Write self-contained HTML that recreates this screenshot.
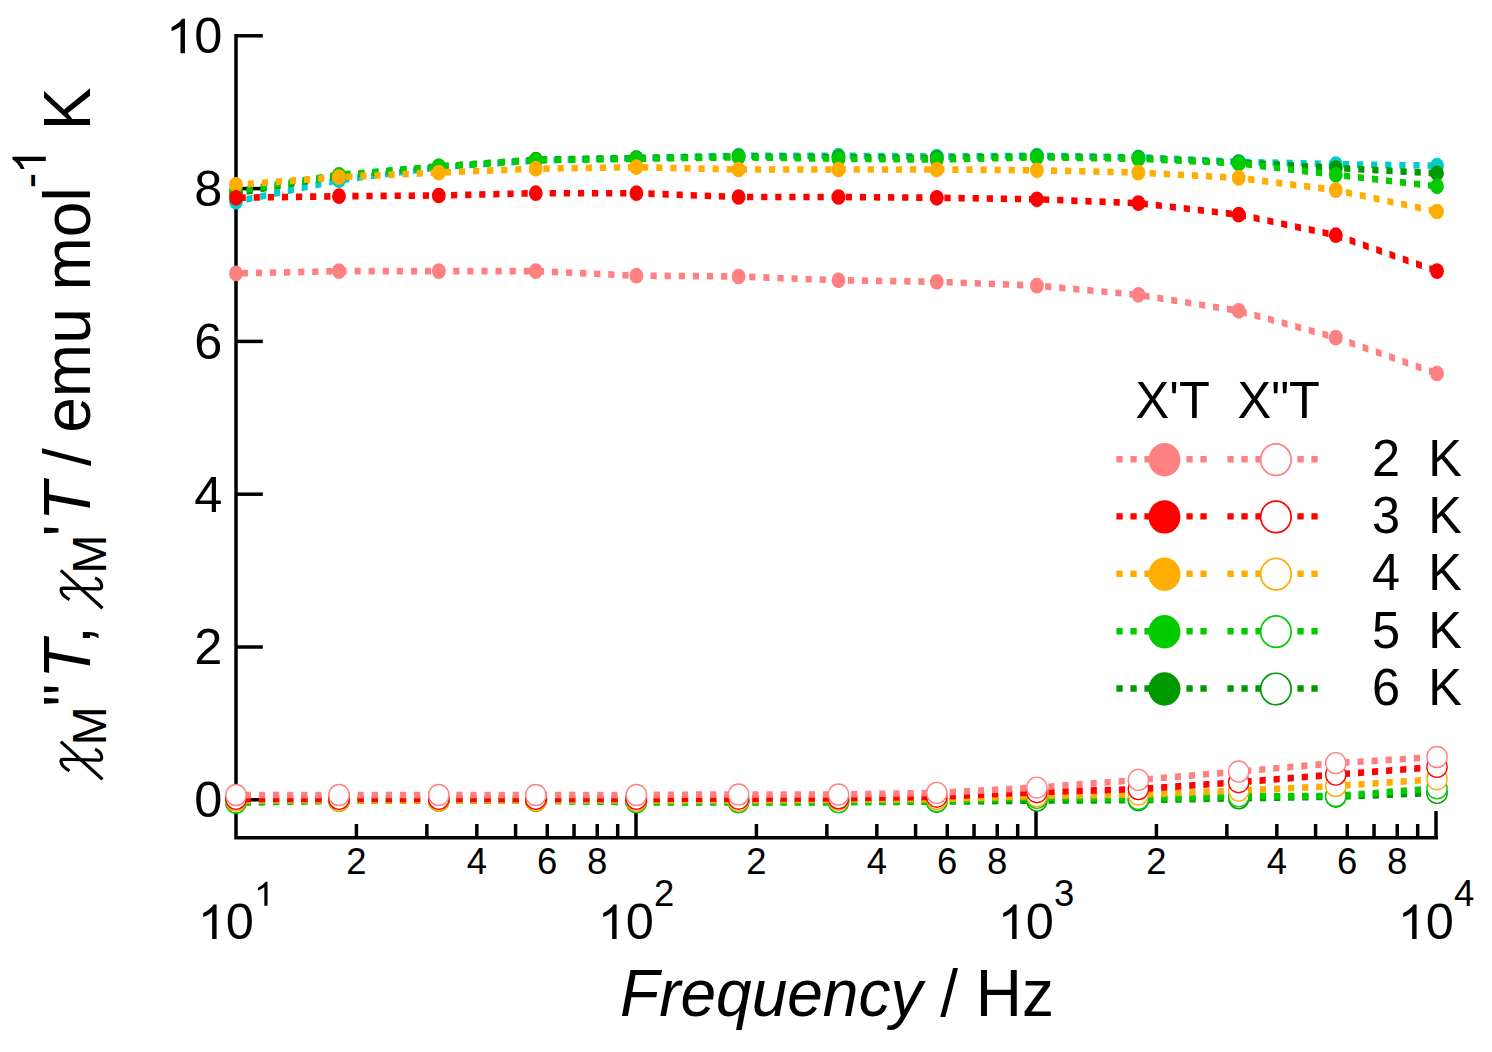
<!DOCTYPE html>
<html><head><meta charset="utf-8"><style>html,body{margin:0;padding:0;background:#fff;width:1492px;height:1052px;overflow:hidden}</style></head>
<body>
<svg width="1492" height="1052" viewBox="0 0 1492 1052" style="position:absolute;left:0;top:0">
<rect x="0" y="0" width="1492" height="1052" fill="#fff"/>
<g stroke="#000" stroke-width="3.5" fill="none" stroke-linecap="butt">
<path d="M236 34.1 V839.6 M234.25 837.85 H1437.9"/>
<path d="M236 799.80 H262.8"/>
<path d="M236 647.00 H262.8"/>
<path d="M236 494.20 H262.8"/>
<path d="M236 341.40 H262.8"/>
<path d="M236 188.60 H262.8"/>
<path d="M236 35.80 H262.8"/>
<path d="M356.41 837.8 V824"/>
<path d="M426.85 837.8 V824"/>
<path d="M476.82 837.8 V824"/>
<path d="M515.59 837.8 V824"/>
<path d="M547.26 837.8 V824"/>
<path d="M574.04 837.8 V824"/>
<path d="M597.24 837.8 V824"/>
<path d="M617.70 837.8 V824"/>
<path d="M636.00 837.8 V811"/>
<path d="M756.41 837.8 V824"/>
<path d="M826.85 837.8 V824"/>
<path d="M876.82 837.8 V824"/>
<path d="M915.59 837.8 V824"/>
<path d="M947.26 837.8 V824"/>
<path d="M974.04 837.8 V824"/>
<path d="M997.24 837.8 V824"/>
<path d="M1017.70 837.8 V824"/>
<path d="M1036.00 837.8 V811"/>
<path d="M1156.41 837.8 V824"/>
<path d="M1226.85 837.8 V824"/>
<path d="M1276.82 837.8 V824"/>
<path d="M1315.59 837.8 V824"/>
<path d="M1347.26 837.8 V824"/>
<path d="M1374.04 837.8 V824"/>
<path d="M1397.24 837.8 V824"/>
<path d="M1417.70 837.8 V824"/>
<path d="M1436.00 837.8 V811"/>
</g>
<defs><filter id="bl" x="-2%" y="-2%" width="104%" height="104%"><feGaussianBlur stdDeviation="0.6"/></filter></defs>
<g filter="url(#bl)">
<path d="M236.00 799.17L236.90 799.16L236.90 805.76L236.00 805.77ZM244.80 799.02L251.00 798.92L251.00 805.52L244.80 805.62ZM258.90 798.78L265.10 798.68L265.10 805.28L258.90 805.38ZM272.99 798.54L279.19 798.44L279.19 805.04L272.99 805.14ZM287.09 798.30L293.29 798.20L293.29 804.80L287.09 804.90ZM301.19 798.06L307.39 797.96L307.39 804.56L301.19 804.66ZM315.29 797.82L321.49 797.72L321.49 804.32L315.29 804.42ZM329.39 797.58L335.59 797.47L335.59 804.08L329.39 804.18ZM343.49 797.42L349.69 797.42L349.69 804.02L343.49 804.02ZM357.59 797.42L363.79 797.42L363.79 804.02L357.59 804.02ZM371.69 797.42L377.89 797.42L377.89 804.02L371.69 804.02ZM385.79 797.42L391.99 797.42L391.99 804.02L385.79 804.02ZM399.89 797.42L406.09 797.42L406.09 804.02L399.89 804.02ZM413.99 797.42L420.19 797.42L420.19 804.02L413.99 804.02ZM428.09 797.42L434.29 797.42L434.29 804.02L428.09 804.02ZM442.19 797.42L448.39 797.42L448.39 804.02L442.19 804.02ZM456.29 797.42L462.49 797.42L462.49 804.02L456.29 804.02ZM470.39 797.42L476.59 797.42L476.59 804.02L470.39 804.02ZM484.49 797.42L490.69 797.42L490.69 804.02L484.49 804.02ZM498.59 797.42L504.79 797.42L504.79 804.02L498.59 804.02ZM512.69 797.42L518.89 797.42L518.89 804.02L512.69 804.02ZM526.79 797.42L532.99 797.42L532.99 804.02L526.79 804.02ZM540.88 797.49L547.08 797.57L547.08 804.17L540.88 804.09ZM554.98 797.68L561.18 797.76L561.18 804.36L554.98 804.28ZM569.08 797.87L575.28 797.96L575.28 804.56L569.08 804.47ZM583.18 798.06L589.38 798.15L589.38 804.75L583.18 804.66ZM597.28 798.26L603.48 798.34L603.48 804.94L597.28 804.86ZM611.38 798.45L617.58 798.53L617.58 805.14L611.38 805.05ZM625.48 798.64L631.68 798.73L631.68 805.33L625.48 805.24ZM639.58 798.79L645.78 798.79L645.78 805.39L639.58 805.39ZM653.68 798.79L659.88 798.79L659.88 805.39L653.68 805.39ZM667.78 798.79L673.98 798.79L673.98 805.39L667.78 805.39ZM681.88 798.79L688.08 798.79L688.08 805.39L681.88 805.39ZM695.98 798.79L702.18 798.79L702.18 805.39L695.98 805.39ZM710.08 798.79L716.28 798.79L716.28 805.39L710.08 805.39ZM724.18 798.79L730.38 798.79L730.38 805.39L724.18 805.39ZM738.28 798.79L738.60 798.79L738.60 805.39L738.28 805.39ZM738.60 798.79L744.48 798.79L744.48 805.39L738.60 805.39ZM752.38 798.79L758.58 798.79L758.58 805.39L752.38 805.39ZM766.48 798.79L772.68 798.79L772.68 805.39L766.48 805.39ZM780.58 798.79L786.78 798.79L786.78 805.39L780.58 805.39ZM794.68 798.79L800.88 798.79L800.88 805.39L794.68 805.39ZM808.78 798.79L814.98 798.79L814.98 805.39L808.78 805.39ZM822.88 798.79L829.08 798.79L829.08 805.39L822.88 805.39ZM836.98 798.79L838.50 798.79L838.50 805.39L836.98 805.39ZM838.50 798.79L843.18 798.77L843.18 805.37L838.50 805.39ZM851.08 798.74L857.28 798.72L857.28 805.32L851.08 805.34ZM865.18 798.69L871.38 798.66L871.38 805.26L865.18 805.29ZM879.28 798.63L885.48 798.61L885.48 805.21L879.28 805.23ZM893.38 798.58L899.58 798.55L899.58 805.15L893.38 805.18ZM907.48 798.52L913.68 798.50L913.68 805.10L907.48 805.12ZM921.57 798.47L927.77 798.45L927.77 805.05L921.57 805.07ZM935.67 798.41L936.80 798.41L936.80 805.01L935.67 805.01ZM936.80 798.41L941.87 798.35L941.87 804.95L936.80 805.01ZM949.77 798.26L955.97 798.19L955.97 804.79L949.77 804.86ZM963.87 798.10L970.07 798.03L970.07 804.63L963.87 804.70ZM977.97 797.94L984.17 797.87L984.17 804.47L977.97 804.54ZM992.07 797.78L998.27 797.71L998.27 804.31L992.07 804.38ZM1006.17 797.62L1012.37 797.54L1012.37 804.15L1006.17 804.22ZM1020.27 797.45L1026.47 797.38L1026.47 803.98L1020.27 804.05ZM1034.37 797.29L1036.90 797.26L1036.90 803.86L1034.37 803.89ZM1036.90 797.26L1040.57 797.25L1040.57 803.85L1036.90 803.86ZM1048.47 797.22L1054.67 797.20L1054.67 803.80L1048.47 803.82ZM1062.57 797.17L1068.77 797.14L1068.77 803.74L1062.57 803.77ZM1076.67 797.11L1082.87 797.09L1082.87 803.69L1076.67 803.71ZM1090.77 797.06L1096.97 797.04L1096.97 803.64L1090.77 803.66ZM1104.87 797.01L1111.07 796.98L1111.07 803.58L1104.87 803.61ZM1118.97 796.96L1125.17 796.93L1125.17 803.53L1118.97 803.56ZM1133.07 796.90L1138.40 796.88L1138.40 803.48L1133.07 803.50ZM1138.40 796.88L1139.27 796.86L1139.27 803.47L1138.40 803.48ZM1147.17 796.71L1153.36 796.60L1153.36 803.20L1147.17 803.32ZM1161.26 796.45L1167.46 796.33L1167.46 802.93L1161.26 803.05ZM1175.36 796.18L1181.56 796.06L1181.56 802.66L1175.36 802.78ZM1189.46 795.91L1195.66 795.79L1195.66 802.39L1189.46 802.51ZM1203.56 795.64L1209.75 795.52L1209.75 802.12L1203.56 802.24ZM1217.65 795.37L1223.85 795.25L1223.85 801.86L1217.65 801.97ZM1231.75 795.10L1237.95 794.99L1237.95 801.59L1231.75 801.70ZM1245.85 794.86L1252.05 794.76L1252.05 801.36L1245.85 801.46ZM1259.95 794.64L1266.15 794.54L1266.15 801.14L1259.95 801.24ZM1274.05 794.42L1280.24 794.32L1280.24 800.92L1274.05 801.02ZM1288.14 794.19L1294.34 794.10L1294.34 800.70L1288.14 800.79ZM1302.24 793.97L1308.44 793.87L1308.44 800.47L1302.24 800.57ZM1316.34 793.75L1322.54 793.65L1322.54 800.25L1316.34 800.35ZM1330.44 793.53L1335.80 793.44L1335.80 800.04L1330.44 800.13ZM1335.80 793.44L1336.64 793.41L1336.64 800.01L1335.80 800.05ZM1344.53 793.11L1350.73 792.88L1350.73 799.48L1344.53 799.72ZM1358.62 792.58L1364.82 792.35L1364.82 798.95L1358.62 799.18ZM1372.71 792.05L1378.91 791.81L1378.91 798.42L1372.71 798.65ZM1386.80 791.52L1393.00 791.28L1393.00 797.89L1386.80 798.12ZM1400.89 790.98L1407.09 790.75L1407.09 797.36L1400.89 797.59ZM1414.98 790.45L1421.18 790.22L1421.18 796.82L1414.98 797.06ZM1429.07 789.92L1435.27 789.69L1435.27 796.29L1429.07 796.53Z" fill="#009900"/><ellipse cx="236.0" cy="802.5" rx="10.15" ry="10.5" fill="#fff" stroke="#009900" stroke-width="1.35"/><ellipse cx="339.0" cy="800.7" rx="10.15" ry="10.5" fill="#fff" stroke="#009900" stroke-width="1.35"/><ellipse cx="438.8" cy="800.7" rx="10.15" ry="10.5" fill="#fff" stroke="#009900" stroke-width="1.35"/><ellipse cx="535.8" cy="800.7" rx="10.15" ry="10.5" fill="#fff" stroke="#009900" stroke-width="1.35"/><ellipse cx="636.4" cy="802.1" rx="10.15" ry="10.5" fill="#fff" stroke="#009900" stroke-width="1.35"/><ellipse cx="738.6" cy="802.1" rx="10.15" ry="10.5" fill="#fff" stroke="#009900" stroke-width="1.35"/><ellipse cx="838.5" cy="802.1" rx="10.15" ry="10.5" fill="#fff" stroke="#009900" stroke-width="1.35"/><ellipse cx="936.8" cy="801.7" rx="10.15" ry="10.5" fill="#fff" stroke="#009900" stroke-width="1.35"/><ellipse cx="1036.9" cy="800.6" rx="10.15" ry="10.5" fill="#fff" stroke="#009900" stroke-width="1.35"/><ellipse cx="1138.4" cy="800.2" rx="10.15" ry="10.5" fill="#fff" stroke="#009900" stroke-width="1.35"/><ellipse cx="1238.7" cy="798.3" rx="10.15" ry="10.5" fill="#fff" stroke="#009900" stroke-width="1.35"/><ellipse cx="1335.8" cy="796.7" rx="10.15" ry="10.5" fill="#fff" stroke="#009900" stroke-width="1.35"/><ellipse cx="1437.0" cy="792.9" rx="10.15" ry="10.5" fill="#fff" stroke="#009900" stroke-width="1.35"/>
<path d="M236.00 799.17L236.90 799.16L236.90 805.76L236.00 805.77ZM244.80 799.02L251.00 798.92L251.00 805.52L244.80 805.62ZM258.90 798.78L265.10 798.68L265.10 805.28L258.90 805.38ZM272.99 798.54L279.19 798.44L279.19 805.04L272.99 805.14ZM287.09 798.30L293.29 798.20L293.29 804.80L287.09 804.90ZM301.19 798.06L307.39 797.96L307.39 804.56L301.19 804.66ZM315.29 797.82L321.49 797.72L321.49 804.32L315.29 804.42ZM329.39 797.58L335.59 797.47L335.59 804.08L329.39 804.18ZM343.49 797.42L349.69 797.42L349.69 804.02L343.49 804.02ZM357.59 797.42L363.79 797.42L363.79 804.02L357.59 804.02ZM371.69 797.42L377.89 797.42L377.89 804.02L371.69 804.02ZM385.79 797.42L391.99 797.42L391.99 804.02L385.79 804.02ZM399.89 797.42L406.09 797.42L406.09 804.02L399.89 804.02ZM413.99 797.42L420.19 797.42L420.19 804.02L413.99 804.02ZM428.09 797.42L434.29 797.42L434.29 804.02L428.09 804.02ZM442.19 797.42L448.39 797.42L448.39 804.02L442.19 804.02ZM456.29 797.42L462.49 797.42L462.49 804.02L456.29 804.02ZM470.39 797.42L476.59 797.42L476.59 804.02L470.39 804.02ZM484.49 797.42L490.69 797.42L490.69 804.02L484.49 804.02ZM498.59 797.42L504.79 797.42L504.79 804.02L498.59 804.02ZM512.69 797.42L518.89 797.42L518.89 804.02L512.69 804.02ZM526.79 797.42L532.99 797.42L532.99 804.02L526.79 804.02ZM540.88 797.49L547.08 797.57L547.08 804.17L540.88 804.09ZM554.98 797.68L561.18 797.76L561.18 804.36L554.98 804.28ZM569.08 797.87L575.28 797.96L575.28 804.56L569.08 804.47ZM583.18 798.06L589.38 798.15L589.38 804.75L583.18 804.66ZM597.28 798.26L603.48 798.34L603.48 804.94L597.28 804.86ZM611.38 798.45L617.58 798.53L617.58 805.14L611.38 805.05ZM625.48 798.64L631.68 798.73L631.68 805.33L625.48 805.24ZM639.58 798.79L645.78 798.79L645.78 805.39L639.58 805.39ZM653.68 798.79L659.88 798.79L659.88 805.39L653.68 805.39ZM667.78 798.79L673.98 798.79L673.98 805.39L667.78 805.39ZM681.88 798.79L688.08 798.79L688.08 805.39L681.88 805.39ZM695.98 798.79L702.18 798.79L702.18 805.39L695.98 805.39ZM710.08 798.79L716.28 798.79L716.28 805.39L710.08 805.39ZM724.18 798.79L730.38 798.79L730.38 805.39L724.18 805.39ZM738.28 798.79L738.60 798.79L738.60 805.39L738.28 805.39ZM738.60 798.79L744.48 798.79L744.48 805.39L738.60 805.39ZM752.38 798.79L758.58 798.79L758.58 805.39L752.38 805.39ZM766.48 798.79L772.68 798.79L772.68 805.39L766.48 805.39ZM780.58 798.79L786.78 798.79L786.78 805.39L780.58 805.39ZM794.68 798.79L800.88 798.79L800.88 805.39L794.68 805.39ZM808.78 798.79L814.98 798.79L814.98 805.39L808.78 805.39ZM822.88 798.79L829.08 798.79L829.08 805.39L822.88 805.39ZM836.98 798.79L838.50 798.79L838.50 805.39L836.98 805.39ZM838.50 798.79L843.18 798.76L843.18 805.36L838.50 805.39ZM851.08 798.69L857.28 798.65L857.28 805.25L851.08 805.29ZM865.17 798.58L871.37 798.54L871.37 805.14L865.17 805.18ZM879.27 798.47L885.47 798.43L885.47 805.03L879.27 805.08ZM893.37 798.37L899.57 798.32L899.57 804.92L893.37 804.97ZM907.47 798.26L913.67 798.21L913.67 804.81L907.47 804.86ZM921.57 798.15L927.77 798.10L927.77 804.70L921.57 804.75ZM935.67 798.04L936.80 798.03L936.80 804.63L935.67 804.64ZM936.80 798.03L941.87 797.85L941.87 804.46L936.80 804.63ZM949.76 797.58L955.96 797.37L955.96 803.97L949.76 804.18ZM963.86 797.10L970.05 796.88L970.05 803.49L963.86 803.70ZM977.95 796.61L984.14 796.40L984.14 803.00L977.95 803.22ZM992.04 796.13L998.24 795.92L998.24 802.52L992.04 802.73ZM1006.13 795.64L1012.33 795.43L1012.33 802.04L1006.13 802.25ZM1020.22 795.16L1026.42 794.95L1026.42 801.55L1020.22 801.76ZM1034.32 794.68L1036.90 794.59L1036.90 801.19L1034.32 801.28ZM1036.90 794.59L1040.51 794.63L1040.51 801.23L1036.90 801.19ZM1048.41 794.72L1054.61 794.79L1054.61 801.39L1048.41 801.32ZM1062.51 794.88L1068.71 794.95L1068.71 801.55L1062.51 801.48ZM1076.61 795.04L1082.81 795.11L1082.81 801.71L1076.61 801.64ZM1090.71 795.20L1096.91 795.27L1096.91 801.87L1090.71 801.80ZM1104.81 795.36L1111.01 795.43L1111.01 802.03L1104.81 801.96ZM1118.91 795.52L1125.11 795.59L1125.11 802.19L1118.91 802.12ZM1133.01 795.67L1138.40 795.74L1138.40 802.34L1133.01 802.28ZM1138.40 795.73L1139.21 795.71L1139.21 802.32L1138.40 802.34ZM1147.10 795.50L1153.30 795.34L1153.30 801.94L1147.10 802.11ZM1161.20 795.13L1167.40 794.96L1167.40 801.56L1161.20 801.73ZM1175.29 794.75L1181.49 794.59L1181.49 801.19L1175.29 801.35ZM1189.39 794.38L1195.59 794.21L1195.59 800.81L1189.39 800.98ZM1203.48 794.00L1209.68 793.83L1209.68 800.44L1203.48 800.60ZM1217.58 793.62L1223.78 793.46L1223.78 800.06L1217.58 800.23ZM1231.67 793.25L1237.87 793.08L1237.87 799.69L1231.67 799.85ZM1245.77 793.03L1251.97 793.01L1251.97 799.61L1245.77 799.63ZM1259.87 792.98L1266.07 792.95L1266.07 799.55L1259.87 799.58ZM1273.97 792.92L1280.17 792.90L1280.17 799.50L1273.97 799.52ZM1288.07 792.87L1294.27 792.84L1294.27 799.44L1288.07 799.47ZM1302.17 792.81L1308.37 792.79L1308.37 799.39L1302.17 799.41ZM1316.27 792.76L1322.47 792.73L1322.47 799.33L1316.27 799.36ZM1330.37 792.70L1335.80 792.68L1335.80 799.28L1330.37 799.30ZM1335.80 792.67L1336.57 792.61L1336.57 799.23L1335.80 799.29ZM1344.45 792.02L1350.63 791.55L1350.63 798.17L1344.45 798.64ZM1358.51 790.96L1364.69 790.49L1364.69 797.11L1358.51 797.58ZM1372.57 789.89L1378.75 789.43L1378.75 796.05L1372.57 796.51ZM1386.63 788.83L1392.81 788.37L1392.81 794.99L1386.63 795.45ZM1400.69 787.77L1406.87 787.31L1406.87 793.92L1400.69 794.39ZM1414.75 786.71L1420.93 786.24L1420.93 792.86L1414.75 793.33ZM1428.81 785.65L1434.99 785.18L1434.99 791.80L1428.81 792.27Z" fill="#00cc00"/><ellipse cx="236.0" cy="802.5" rx="10.15" ry="10.5" fill="#fff" stroke="#00cc00" stroke-width="1.35"/><ellipse cx="339.0" cy="800.7" rx="10.15" ry="10.5" fill="#fff" stroke="#00cc00" stroke-width="1.35"/><ellipse cx="438.8" cy="800.7" rx="10.15" ry="10.5" fill="#fff" stroke="#00cc00" stroke-width="1.35"/><ellipse cx="535.8" cy="800.7" rx="10.15" ry="10.5" fill="#fff" stroke="#00cc00" stroke-width="1.35"/><ellipse cx="636.4" cy="802.1" rx="10.15" ry="10.5" fill="#fff" stroke="#00cc00" stroke-width="1.35"/><ellipse cx="738.6" cy="802.1" rx="10.15" ry="10.5" fill="#fff" stroke="#00cc00" stroke-width="1.35"/><ellipse cx="838.5" cy="802.1" rx="10.15" ry="10.5" fill="#fff" stroke="#00cc00" stroke-width="1.35"/><ellipse cx="936.8" cy="801.3" rx="10.15" ry="10.5" fill="#fff" stroke="#00cc00" stroke-width="1.35"/><ellipse cx="1036.9" cy="797.9" rx="10.15" ry="10.5" fill="#fff" stroke="#00cc00" stroke-width="1.35"/><ellipse cx="1138.4" cy="799.0" rx="10.15" ry="10.5" fill="#fff" stroke="#00cc00" stroke-width="1.35"/><ellipse cx="1238.7" cy="796.4" rx="10.15" ry="10.5" fill="#fff" stroke="#00cc00" stroke-width="1.35"/><ellipse cx="1335.8" cy="796.0" rx="10.15" ry="10.5" fill="#fff" stroke="#00cc00" stroke-width="1.35"/><ellipse cx="1437.0" cy="788.3" rx="10.15" ry="10.5" fill="#fff" stroke="#00cc00" stroke-width="1.35"/>
<path d="M236.00 797.26L236.90 797.26L236.90 803.86L236.00 803.86ZM244.80 797.26L251.00 797.26L251.00 803.86L244.80 803.86ZM258.90 797.26L265.10 797.26L265.10 803.86L258.90 803.86ZM273.00 797.26L279.20 797.26L279.20 803.86L273.00 803.86ZM287.10 797.26L293.30 797.26L293.30 803.86L287.10 803.86ZM301.20 797.26L307.40 797.26L307.40 803.86L301.20 803.86ZM315.30 797.26L321.50 797.26L321.50 803.86L315.30 803.86ZM329.40 797.26L335.60 797.26L335.60 803.86L329.40 803.86ZM343.50 797.26L349.70 797.26L349.70 803.86L343.50 803.86ZM357.60 797.26L363.80 797.26L363.80 803.86L357.60 803.86ZM371.70 797.26L377.90 797.26L377.90 803.86L371.70 803.86ZM385.80 797.26L392.00 797.26L392.00 803.86L385.80 803.86ZM399.90 797.26L406.10 797.26L406.10 803.86L399.90 803.86ZM414.00 797.26L420.20 797.26L420.20 803.86L414.00 803.86ZM428.10 797.26L434.30 797.26L434.30 803.86L428.10 803.86ZM442.20 797.26L448.40 797.26L448.40 803.86L442.20 803.86ZM456.30 797.26L462.50 797.26L462.50 803.86L456.30 803.86ZM470.40 797.26L476.60 797.26L476.60 803.86L470.40 803.86ZM484.50 797.26L490.70 797.26L490.70 803.86L484.50 803.86ZM498.60 797.26L504.80 797.26L504.80 803.86L498.60 803.86ZM512.70 797.26L518.90 797.26L518.90 803.86L512.70 803.86ZM526.80 797.26L533.00 797.26L533.00 803.86L526.80 803.86ZM540.90 797.26L547.10 797.26L547.10 803.86L540.90 803.86ZM555.00 797.26L561.20 797.26L561.20 803.86L555.00 803.86ZM569.10 797.26L575.30 797.26L575.30 803.86L569.10 803.86ZM583.20 797.26L589.40 797.26L589.40 803.86L583.20 803.86ZM597.30 797.26L603.50 797.26L603.50 803.86L597.30 803.86ZM611.40 797.26L617.60 797.26L617.60 803.86L611.40 803.86ZM625.50 797.26L631.70 797.26L631.70 803.86L625.50 803.86ZM639.60 797.26L645.80 797.26L645.80 803.86L639.60 803.86ZM653.70 797.26L659.90 797.26L659.90 803.86L653.70 803.86ZM667.80 797.26L674.00 797.26L674.00 803.86L667.80 803.86ZM681.90 797.26L688.10 797.26L688.10 803.86L681.90 803.86ZM696.00 797.26L702.20 797.26L702.20 803.86L696.00 803.86ZM710.10 797.26L716.30 797.26L716.30 803.86L710.10 803.86ZM724.20 797.26L730.40 797.26L730.40 803.86L724.20 803.86ZM738.30 797.26L738.60 797.26L738.60 803.86L738.30 803.86ZM738.60 797.26L744.50 797.22L744.50 803.82L738.60 803.86ZM752.40 797.16L758.60 797.11L758.60 803.71L752.40 803.76ZM766.50 797.05L772.70 797.00L772.70 803.60L766.50 803.65ZM780.60 796.94L786.80 796.90L786.80 803.50L780.60 803.54ZM794.70 796.83L800.90 796.79L800.90 803.39L794.70 803.44ZM808.80 796.73L815.00 796.68L815.00 803.28L808.80 803.33ZM822.90 796.62L829.10 796.57L829.10 803.17L822.90 803.22ZM837.00 796.51L838.50 796.50L838.50 803.10L837.00 803.11ZM838.50 796.50L843.20 796.46L843.20 803.06L838.50 803.10ZM851.10 796.40L857.30 796.35L857.30 802.95L851.10 803.00ZM865.20 796.29L871.40 796.24L871.40 802.84L865.20 802.89ZM879.30 796.18L885.50 796.13L885.50 802.73L879.30 802.78ZM893.40 796.07L899.60 796.03L899.60 802.63L893.40 802.67ZM907.49 795.96L913.69 795.92L913.69 802.52L907.49 802.56ZM921.59 795.85L927.79 795.81L927.79 802.41L921.59 802.45ZM935.69 795.74L936.80 795.74L936.80 802.34L935.69 802.34ZM936.80 795.73L941.89 795.58L941.89 802.18L936.80 802.34ZM949.79 795.34L955.99 795.15L955.99 801.75L949.79 801.94ZM963.88 794.91L970.08 794.72L970.08 801.32L963.88 801.51ZM977.97 794.48L984.17 794.29L984.17 800.89L977.97 801.08ZM992.07 794.05L998.27 793.86L998.27 800.46L992.07 800.65ZM1006.16 793.62L1012.36 793.43L1012.36 800.03L1006.16 800.22ZM1020.26 793.19L1026.45 793.00L1026.45 799.60L1020.26 799.79ZM1034.35 792.76L1036.90 792.68L1036.90 799.28L1034.35 799.36ZM1036.90 792.68L1040.55 792.62L1040.55 799.23L1036.90 799.28ZM1048.45 792.51L1054.65 792.41L1054.65 799.01L1048.45 799.11ZM1062.54 792.29L1068.74 792.20L1068.74 798.80L1062.54 798.89ZM1076.64 792.08L1082.84 791.99L1082.84 798.59L1076.64 798.68ZM1090.74 791.87L1096.94 791.78L1096.94 798.38L1090.74 798.47ZM1104.84 791.66L1111.04 791.56L1111.04 798.16L1104.84 798.26ZM1118.94 791.44L1125.14 791.35L1125.14 797.95L1118.94 798.05ZM1133.04 791.23L1138.40 791.15L1138.40 797.75L1133.04 797.83ZM1138.40 791.15L1139.24 791.12L1139.24 797.72L1138.40 797.75ZM1147.13 790.82L1153.33 790.58L1153.33 797.19L1147.13 797.42ZM1161.22 790.28L1167.41 790.04L1167.41 796.65L1161.22 796.89ZM1175.31 789.74L1181.50 789.51L1181.50 796.11L1175.31 796.35ZM1189.40 789.21L1195.59 788.97L1195.59 795.58L1189.40 795.81ZM1203.49 788.67L1209.68 788.43L1209.68 795.04L1203.49 795.28ZM1217.58 788.13L1223.77 787.90L1223.77 794.50L1217.58 794.74ZM1231.67 787.60L1237.86 787.36L1237.86 793.97L1231.67 794.20ZM1245.76 787.00L1251.95 786.70L1251.95 793.31L1245.76 793.60ZM1259.84 786.33L1266.03 786.04L1266.03 792.65L1259.84 792.94ZM1273.92 785.67L1280.12 785.37L1280.12 791.98L1273.92 792.27ZM1288.01 785.00L1294.20 784.71L1294.20 791.32L1288.01 791.61ZM1302.09 784.34L1308.29 784.04L1308.29 790.65L1302.09 790.94ZM1316.18 783.67L1322.37 783.38L1322.37 789.99L1316.18 790.28ZM1330.26 783.01L1335.80 782.74L1335.80 789.35L1330.26 789.61ZM1335.80 782.74L1336.45 782.70L1336.45 789.31L1335.80 789.36ZM1344.34 782.16L1350.52 781.74L1350.52 788.36L1344.34 788.78ZM1358.40 781.20L1364.59 780.78L1364.59 787.40L1358.40 787.82ZM1372.47 780.25L1378.66 779.83L1378.66 786.44L1372.47 786.86ZM1386.54 779.29L1392.72 778.87L1392.72 785.49L1386.54 785.91ZM1400.61 778.34L1406.79 777.92L1406.79 784.53L1400.61 784.95ZM1414.67 777.38L1420.86 776.96L1420.86 783.58L1414.67 784.00ZM1428.74 776.43L1434.93 776.01L1434.93 782.62L1428.74 783.04Z" fill="#ffad00"/><ellipse cx="236.0" cy="800.6" rx="10.15" ry="10.5" fill="#fff" stroke="#ffad00" stroke-width="1.35"/><ellipse cx="339.0" cy="800.6" rx="10.15" ry="10.5" fill="#fff" stroke="#ffad00" stroke-width="1.35"/><ellipse cx="438.8" cy="800.6" rx="10.15" ry="10.5" fill="#fff" stroke="#ffad00" stroke-width="1.35"/><ellipse cx="535.8" cy="800.6" rx="10.15" ry="10.5" fill="#fff" stroke="#ffad00" stroke-width="1.35"/><ellipse cx="636.4" cy="800.6" rx="10.15" ry="10.5" fill="#fff" stroke="#ffad00" stroke-width="1.35"/><ellipse cx="738.6" cy="800.6" rx="10.15" ry="10.5" fill="#fff" stroke="#ffad00" stroke-width="1.35"/><ellipse cx="838.5" cy="799.8" rx="10.15" ry="10.5" fill="#fff" stroke="#ffad00" stroke-width="1.35"/><ellipse cx="936.8" cy="799.0" rx="10.15" ry="10.5" fill="#fff" stroke="#ffad00" stroke-width="1.35"/><ellipse cx="1036.9" cy="796.0" rx="10.15" ry="10.5" fill="#fff" stroke="#ffad00" stroke-width="1.35"/><ellipse cx="1138.4" cy="794.5" rx="10.15" ry="10.5" fill="#fff" stroke="#ffad00" stroke-width="1.35"/><ellipse cx="1238.7" cy="790.6" rx="10.15" ry="10.5" fill="#fff" stroke="#ffad00" stroke-width="1.35"/><ellipse cx="1335.8" cy="786.0" rx="10.15" ry="10.5" fill="#fff" stroke="#ffad00" stroke-width="1.35"/><ellipse cx="1437.0" cy="779.2" rx="10.15" ry="10.5" fill="#fff" stroke="#ffad00" stroke-width="1.35"/>
<path d="M236.00 795.58L236.90 795.58L236.90 802.18L236.00 802.18ZM244.80 795.58L251.00 795.58L251.00 802.18L244.80 802.18ZM258.90 795.58L265.10 795.58L265.10 802.18L258.90 802.18ZM273.00 795.58L279.20 795.58L279.20 802.18L273.00 802.18ZM287.10 795.58L293.30 795.58L293.30 802.18L287.10 802.18ZM301.20 795.58L307.40 795.58L307.40 802.18L301.20 802.18ZM315.30 795.58L321.50 795.58L321.50 802.18L315.30 802.18ZM329.40 795.58L335.60 795.58L335.60 802.18L329.40 802.18ZM343.50 795.58L349.70 795.58L349.70 802.18L343.50 802.18ZM357.60 795.58L363.80 795.58L363.80 802.18L357.60 802.18ZM371.70 795.58L377.90 795.58L377.90 802.18L371.70 802.18ZM385.80 795.58L392.00 795.58L392.00 802.18L385.80 802.18ZM399.90 795.58L406.10 795.58L406.10 802.18L399.90 802.18ZM414.00 795.58L420.20 795.58L420.20 802.18L414.00 802.18ZM428.10 795.58L434.30 795.58L434.30 802.18L428.10 802.18ZM442.20 795.58L448.40 795.58L448.40 802.18L442.20 802.18ZM456.30 795.58L462.50 795.58L462.50 802.18L456.30 802.18ZM470.40 795.58L476.60 795.58L476.60 802.18L470.40 802.18ZM484.50 795.58L490.70 795.58L490.70 802.18L484.50 802.18ZM498.60 795.58L504.80 795.58L504.80 802.18L498.60 802.18ZM512.70 795.58L518.90 795.58L518.90 802.18L512.70 802.18ZM526.80 795.58L533.00 795.58L533.00 802.18L526.80 802.18ZM540.90 795.58L547.10 795.58L547.10 802.18L540.90 802.18ZM555.00 795.58L561.20 795.58L561.20 802.18L555.00 802.18ZM569.10 795.58L575.30 795.58L575.30 802.18L569.10 802.18ZM583.20 795.58L589.40 795.58L589.40 802.18L583.20 802.18ZM597.30 795.58L603.50 795.58L603.50 802.18L597.30 802.18ZM611.40 795.58L617.60 795.58L617.60 802.18L611.40 802.18ZM625.50 795.58L631.70 795.58L631.70 802.18L625.50 802.18ZM639.60 795.58L645.80 795.56L645.80 802.16L639.60 802.18ZM653.70 795.54L659.90 795.53L659.90 802.13L653.70 802.14ZM667.80 795.51L674.00 795.50L674.00 802.10L667.80 802.11ZM681.90 795.48L688.10 795.47L688.10 802.07L681.90 802.08ZM696.00 795.45L702.20 795.44L702.20 802.04L696.00 802.05ZM710.10 795.42L716.30 795.40L716.30 802.00L710.10 802.02ZM724.20 795.39L730.40 795.37L730.40 801.97L724.20 801.99ZM738.30 795.35L738.60 795.35L738.60 801.95L738.30 801.95ZM738.60 795.35L744.50 795.33L744.50 801.93L738.60 801.95ZM752.40 795.30L758.60 795.28L758.60 801.88L752.40 801.90ZM766.50 795.25L772.70 795.22L772.70 801.82L766.50 801.85ZM780.60 795.19L786.80 795.17L786.80 801.77L780.60 801.79ZM794.70 795.14L800.90 795.12L800.90 801.72L794.70 801.74ZM808.80 795.09L815.00 795.06L815.00 801.66L808.80 801.69ZM822.90 795.03L829.10 795.01L829.10 801.61L822.90 801.63ZM837.00 794.98L838.50 794.97L838.50 801.57L837.00 801.58ZM838.50 794.97L843.20 794.90L843.20 801.50L838.50 801.57ZM851.10 794.78L857.30 794.68L857.30 801.28L851.10 801.38ZM865.20 794.56L871.40 794.46L871.40 801.06L865.20 801.16ZM879.29 794.34L885.49 794.24L885.49 800.84L879.29 800.94ZM893.39 794.12L899.59 794.02L899.59 800.62L893.39 800.72ZM907.49 793.90L913.69 793.80L913.69 800.40L907.49 800.50ZM921.59 793.68L927.79 793.58L927.79 800.18L921.59 800.28ZM935.69 793.46L936.80 793.44L936.80 800.04L935.69 800.06ZM936.80 793.44L941.88 793.21L941.88 799.81L936.80 800.05ZM949.77 792.85L955.97 792.56L955.97 799.17L949.77 799.45ZM963.86 792.20L970.05 791.92L970.05 798.52L963.86 798.81ZM977.94 791.56L984.14 791.27L984.14 797.88L977.94 798.16ZM992.03 790.91L998.22 790.63L998.22 797.23L992.03 797.52ZM1006.11 790.27L1012.31 789.98L1012.31 796.59L1006.11 796.87ZM1020.20 789.62L1026.39 789.34L1026.39 795.94L1020.20 796.23ZM1034.28 788.98L1036.90 788.86L1036.90 795.46L1034.28 795.58ZM1036.90 788.86L1040.48 788.75L1040.48 795.35L1036.90 795.46ZM1048.38 788.51L1054.57 788.33L1054.57 794.93L1048.38 795.12ZM1062.47 788.09L1068.67 787.90L1068.67 794.51L1062.47 794.69ZM1076.56 787.66L1082.76 787.48L1082.76 794.08L1076.56 794.27ZM1090.66 787.24L1096.86 787.05L1096.86 793.66L1090.66 793.84ZM1104.75 786.82L1110.95 786.63L1110.95 793.23L1104.75 793.42ZM1118.85 786.39L1125.04 786.20L1125.04 792.81L1118.85 792.99ZM1132.94 785.97L1138.40 785.80L1138.40 792.41L1132.94 792.57ZM1138.40 785.80L1139.13 785.75L1139.13 792.36L1138.40 792.41ZM1147.02 785.21L1153.20 784.78L1153.20 791.40L1147.02 791.82ZM1161.08 784.24L1167.27 783.82L1167.27 790.43L1161.08 790.86ZM1175.15 783.28L1181.34 782.85L1181.34 789.47L1175.15 789.89ZM1189.22 782.31L1195.40 781.89L1195.40 788.50L1189.22 788.93ZM1203.28 781.35L1209.47 780.92L1209.47 787.54L1203.28 787.96ZM1217.35 780.38L1223.54 779.96L1223.54 786.58L1217.35 787.00ZM1231.42 779.42L1237.60 779.00L1237.60 785.61L1231.42 786.03ZM1245.48 778.38L1251.66 777.90L1251.66 784.52L1245.48 785.00ZM1259.54 777.28L1265.72 776.79L1265.72 783.41L1259.54 783.90ZM1273.59 776.17L1279.77 775.69L1279.77 782.31L1273.59 782.79ZM1287.65 775.07L1293.83 774.58L1293.83 781.20L1287.65 781.69ZM1301.71 773.96L1307.89 773.47L1307.89 780.09L1301.71 780.58ZM1315.76 772.85L1321.94 772.37L1321.94 778.99L1315.76 779.47ZM1329.82 771.75L1335.80 771.28L1335.80 777.90L1329.82 778.37ZM1335.80 771.28L1336.00 771.26L1336.00 777.88L1335.80 777.90ZM1343.88 770.67L1350.06 770.20L1350.06 776.82L1343.88 777.29ZM1357.94 769.61L1364.12 769.14L1364.12 775.76L1357.94 776.23ZM1372.00 768.55L1378.18 768.08L1378.18 774.70L1372.00 775.16ZM1386.06 767.48L1392.24 767.02L1392.24 773.64L1386.06 774.10ZM1400.12 766.42L1406.30 765.96L1406.30 772.58L1400.12 773.04ZM1414.18 765.36L1420.36 764.89L1420.36 771.51L1414.18 771.98ZM1428.24 764.30L1434.42 763.83L1434.42 770.45L1428.24 770.92Z" fill="#ff0000"/><ellipse cx="236.0" cy="798.9" rx="10.15" ry="10.5" fill="#fff" stroke="#ff0000" stroke-width="1.35"/><ellipse cx="339.0" cy="798.9" rx="10.15" ry="10.5" fill="#fff" stroke="#ff0000" stroke-width="1.35"/><ellipse cx="438.8" cy="798.9" rx="10.15" ry="10.5" fill="#fff" stroke="#ff0000" stroke-width="1.35"/><ellipse cx="535.8" cy="798.9" rx="10.15" ry="10.5" fill="#fff" stroke="#ff0000" stroke-width="1.35"/><ellipse cx="636.4" cy="798.9" rx="10.15" ry="10.5" fill="#fff" stroke="#ff0000" stroke-width="1.35"/><ellipse cx="738.6" cy="798.7" rx="10.15" ry="10.5" fill="#fff" stroke="#ff0000" stroke-width="1.35"/><ellipse cx="838.5" cy="798.3" rx="10.15" ry="10.5" fill="#fff" stroke="#ff0000" stroke-width="1.35"/><ellipse cx="936.8" cy="796.7" rx="10.15" ry="10.5" fill="#fff" stroke="#ff0000" stroke-width="1.35"/><ellipse cx="1036.9" cy="792.2" rx="10.15" ry="10.5" fill="#fff" stroke="#ff0000" stroke-width="1.35"/><ellipse cx="1138.4" cy="789.1" rx="10.15" ry="10.5" fill="#fff" stroke="#ff0000" stroke-width="1.35"/><ellipse cx="1238.7" cy="782.2" rx="10.15" ry="10.5" fill="#fff" stroke="#ff0000" stroke-width="1.35"/><ellipse cx="1335.8" cy="774.6" rx="10.15" ry="10.5" fill="#fff" stroke="#ff0000" stroke-width="1.35"/><ellipse cx="1437.0" cy="766.9" rx="10.15" ry="10.5" fill="#fff" stroke="#ff0000" stroke-width="1.35"/>
<path d="M236.00 791.69L236.90 791.69L236.90 798.29L236.00 798.29ZM244.80 791.69L251.00 791.69L251.00 798.29L244.80 798.29ZM258.90 791.69L265.10 791.69L265.10 798.29L258.90 798.29ZM273.00 791.69L279.20 791.69L279.20 798.29L273.00 798.29ZM287.10 791.69L293.30 791.69L293.30 798.29L287.10 798.29ZM301.20 791.69L307.40 791.69L307.40 798.29L301.20 798.29ZM315.30 791.69L321.50 791.69L321.50 798.29L315.30 798.29ZM329.40 791.69L335.60 791.69L335.60 798.29L329.40 798.29ZM343.50 791.69L349.70 791.69L349.70 798.29L343.50 798.29ZM357.60 791.69L363.80 791.69L363.80 798.29L357.60 798.29ZM371.70 791.69L377.90 791.69L377.90 798.29L371.70 798.29ZM385.80 791.69L392.00 791.69L392.00 798.29L385.80 798.29ZM399.90 791.69L406.10 791.69L406.10 798.29L399.90 798.29ZM414.00 791.69L420.20 791.69L420.20 798.29L414.00 798.29ZM428.10 791.69L434.30 791.69L434.30 798.29L428.10 798.29ZM442.20 791.69L448.40 791.69L448.40 798.29L442.20 798.29ZM456.30 791.69L462.50 791.69L462.50 798.29L456.30 798.29ZM470.40 791.69L476.60 791.69L476.60 798.29L470.40 798.29ZM484.50 791.69L490.70 791.69L490.70 798.29L484.50 798.29ZM498.60 791.69L504.80 791.69L504.80 798.29L498.60 798.29ZM512.70 791.69L518.90 791.69L518.90 798.29L512.70 798.29ZM526.80 791.69L533.00 791.69L533.00 798.29L526.80 798.29ZM540.90 791.69L547.10 791.69L547.10 798.29L540.90 798.29ZM555.00 791.69L561.20 791.69L561.20 798.29L555.00 798.29ZM569.10 791.69L575.30 791.69L575.30 798.29L569.10 798.29ZM583.20 791.69L589.40 791.69L589.40 798.29L583.20 798.29ZM597.30 791.69L603.50 791.69L603.50 798.29L597.30 798.29ZM611.40 791.69L617.60 791.69L617.60 798.29L611.40 798.29ZM625.50 791.69L631.70 791.69L631.70 798.29L625.50 798.29ZM639.60 791.67L645.80 791.64L645.80 798.24L639.60 798.27ZM653.70 791.60L659.90 791.56L659.90 798.16L653.70 798.20ZM667.80 791.52L674.00 791.49L674.00 798.09L667.80 798.12ZM681.90 791.45L688.10 791.42L688.10 798.02L681.90 798.05ZM696.00 791.37L702.20 791.34L702.20 797.94L696.00 797.97ZM710.10 791.30L716.30 791.27L716.30 797.87L710.10 797.90ZM724.20 791.23L730.40 791.19L730.40 797.79L724.20 797.83ZM738.30 791.15L738.60 791.15L738.60 797.75L738.30 797.75ZM738.60 791.15L744.50 791.15L744.50 797.75L738.60 797.75ZM752.40 791.15L758.60 791.15L758.60 797.75L752.40 797.75ZM766.50 791.15L772.70 791.15L772.70 797.75L766.50 797.75ZM780.60 791.15L786.80 791.15L786.80 797.75L780.60 797.75ZM794.70 791.15L800.90 791.15L800.90 797.75L794.70 797.75ZM808.80 791.15L815.00 791.15L815.00 797.75L808.80 797.75ZM822.90 791.15L829.10 791.15L829.10 797.75L822.90 797.75ZM837.00 791.15L838.50 791.15L838.50 797.75L837.00 797.75ZM838.50 791.15L843.20 791.08L843.20 797.68L838.50 797.75ZM851.10 790.96L857.30 790.86L857.30 797.46L851.10 797.56ZM865.20 790.74L871.39 790.64L871.39 797.24L865.20 797.34ZM879.29 790.52L885.49 790.42L885.49 797.02L879.29 797.12ZM893.39 790.30L899.59 790.20L899.59 796.80L893.39 796.90ZM907.49 790.08L913.69 789.98L913.69 796.58L907.49 796.68ZM921.59 789.86L927.79 789.76L927.79 796.36L921.59 796.46ZM935.69 789.64L936.80 789.62L936.80 796.22L935.69 796.24ZM936.80 789.62L941.88 789.35L941.88 795.96L936.80 796.23ZM949.77 788.93L955.96 788.60L955.96 795.21L949.77 795.54ZM963.85 788.17L970.04 787.84L970.04 794.45L963.85 794.78ZM977.93 787.42L984.12 787.09L984.12 793.70L977.93 794.03ZM992.01 786.67L998.20 786.34L998.20 792.95L992.01 793.28ZM1006.09 785.92L1012.28 785.59L1012.28 792.20L1006.09 792.53ZM1020.17 785.17L1026.36 784.83L1026.36 791.44L1020.17 791.77ZM1034.25 784.41L1036.90 784.27L1036.90 790.88L1034.25 791.02ZM1036.90 784.27L1040.43 784.00L1040.43 790.62L1036.90 790.89ZM1048.31 783.41L1054.49 782.94L1054.49 789.56L1048.31 790.03ZM1062.37 782.35L1068.55 781.88L1068.55 788.50L1062.37 788.97ZM1076.43 781.29L1082.61 780.83L1082.61 787.44L1076.43 787.91ZM1090.49 780.23L1096.67 779.77L1096.67 786.39L1090.49 786.85ZM1104.55 779.17L1110.74 778.71L1110.74 785.33L1104.55 785.79ZM1118.61 778.12L1124.80 777.65L1124.80 784.27L1118.61 784.73ZM1132.67 777.06L1138.40 776.63L1138.40 783.25L1132.67 783.68ZM1138.40 776.62L1138.86 776.59L1138.86 783.21L1138.40 783.25ZM1146.73 775.93L1152.91 775.41L1152.91 782.03L1146.73 782.55ZM1160.78 774.75L1166.96 774.23L1166.96 780.85L1160.78 781.37ZM1174.83 773.57L1181.01 773.05L1181.01 779.68L1174.83 780.20ZM1188.88 772.39L1195.06 771.88L1195.06 778.50L1188.88 779.02ZM1202.93 771.22L1209.11 770.70L1209.11 777.32L1202.93 777.84ZM1216.98 770.04L1223.16 769.52L1223.16 776.15L1216.98 776.66ZM1231.03 768.86L1237.21 768.35L1237.21 774.97L1231.03 775.49ZM1245.08 767.67L1251.26 767.13L1251.26 773.76L1245.08 774.29ZM1259.13 766.45L1265.31 765.92L1265.31 772.54L1259.13 773.08ZM1273.18 765.24L1279.35 764.70L1279.35 771.33L1273.18 771.86ZM1287.22 764.02L1293.40 763.49L1293.40 770.11L1287.22 770.64ZM1301.27 762.80L1307.45 762.27L1307.45 768.89L1301.27 769.43ZM1315.32 761.59L1321.50 761.05L1321.50 767.68L1315.32 768.21ZM1329.37 760.37L1335.54 759.84L1335.54 766.46L1329.37 767.00ZM1343.43 759.36L1349.62 758.99L1349.62 765.60L1343.43 765.97ZM1357.50 758.51L1363.69 758.14L1363.69 764.75L1357.50 765.12ZM1371.58 757.66L1377.77 757.29L1377.77 763.90L1371.58 764.27ZM1385.65 756.81L1391.84 756.44L1391.84 763.05L1385.65 763.42ZM1399.73 755.96L1405.91 755.59L1405.91 762.20L1399.73 762.57ZM1413.80 755.11L1419.99 754.74L1419.99 761.35L1413.80 761.72ZM1427.87 754.26L1434.06 753.89L1434.06 760.50L1427.87 760.87Z" fill="#ff8080"/><ellipse cx="236.0" cy="795.0" rx="10.15" ry="10.5" fill="#fff" stroke="#ff8080" stroke-width="1.35"/><ellipse cx="339.0" cy="795.0" rx="10.15" ry="10.5" fill="#fff" stroke="#ff8080" stroke-width="1.35"/><ellipse cx="438.8" cy="795.0" rx="10.15" ry="10.5" fill="#fff" stroke="#ff8080" stroke-width="1.35"/><ellipse cx="535.8" cy="795.0" rx="10.15" ry="10.5" fill="#fff" stroke="#ff8080" stroke-width="1.35"/><ellipse cx="636.4" cy="795.0" rx="10.15" ry="10.5" fill="#fff" stroke="#ff8080" stroke-width="1.35"/><ellipse cx="738.6" cy="794.5" rx="10.15" ry="10.5" fill="#fff" stroke="#ff8080" stroke-width="1.35"/><ellipse cx="838.5" cy="794.5" rx="10.15" ry="10.5" fill="#fff" stroke="#ff8080" stroke-width="1.35"/><ellipse cx="936.8" cy="792.9" rx="10.15" ry="10.5" fill="#fff" stroke="#ff8080" stroke-width="1.35"/><ellipse cx="1036.9" cy="787.6" rx="10.15" ry="10.5" fill="#fff" stroke="#ff8080" stroke-width="1.35"/><ellipse cx="1138.4" cy="779.9" rx="10.15" ry="10.5" fill="#fff" stroke="#ff8080" stroke-width="1.35"/><ellipse cx="1238.7" cy="771.5" rx="10.15" ry="10.5" fill="#fff" stroke="#ff8080" stroke-width="1.35"/><ellipse cx="1335.8" cy="763.1" rx="10.15" ry="10.5" fill="#fff" stroke="#ff8080" stroke-width="1.35"/><ellipse cx="1437.0" cy="757.0" rx="10.15" ry="10.5" fill="#fff" stroke="#ff8080" stroke-width="1.35"/>
<path d="M236.00 198.22L238.64 197.67L238.64 204.41L236.00 204.96ZM246.38 196.06L252.45 194.80L252.45 201.54L246.38 202.80ZM260.18 193.19L266.25 191.93L266.25 198.67L260.18 199.94ZM273.99 190.33L280.06 189.07L280.06 195.81L273.99 197.07ZM287.79 187.46L293.87 186.20L293.87 192.94L287.79 194.20ZM301.60 184.59L307.67 183.33L307.67 190.07L301.60 191.33ZM315.41 181.73L321.48 180.47L321.48 187.21L315.41 188.47ZM329.21 178.86L335.28 177.60L335.28 184.34L329.21 185.60ZM343.07 176.34L349.22 175.54L349.22 182.19L343.07 182.99ZM357.05 174.52L363.20 173.72L363.20 180.37L357.05 181.17ZM371.03 172.70L377.18 171.90L377.18 178.56L371.03 179.36ZM385.01 170.88L391.16 170.08L391.16 176.74L385.01 177.54ZM399.00 169.06L405.14 168.26L405.14 174.92L399.00 175.72ZM412.98 167.24L419.13 166.44L419.13 173.10L412.98 173.90ZM426.96 165.42L433.11 164.62L433.11 171.28L426.96 172.08ZM440.96 163.75L447.14 163.31L447.14 169.93L440.96 170.36ZM455.02 162.75L461.20 162.31L461.20 168.93L455.02 169.37ZM469.08 161.75L475.27 161.31L475.27 167.93L469.08 168.37ZM483.15 160.76L489.33 160.32L489.33 166.93L483.15 167.37ZM497.21 159.76L503.40 159.32L503.40 165.94L497.21 166.38ZM511.28 158.76L517.46 158.32L517.46 164.94L511.28 165.38ZM525.34 157.76L531.53 157.33L531.53 163.94L525.34 164.38ZM539.42 156.95L545.61 156.81L545.61 163.41L539.42 163.55ZM553.51 156.63L559.71 156.49L559.71 163.09L553.51 163.23ZM567.61 156.31L573.81 156.17L573.81 162.77L567.61 162.91ZM581.71 155.99L587.90 155.84L587.90 162.45L581.71 162.59ZM595.80 155.66L602.00 155.52L602.00 162.12L595.80 162.27ZM609.90 155.34L616.10 155.20L616.10 161.80L609.90 161.94ZM623.99 155.02L630.19 154.88L630.19 161.48L623.99 161.62ZM638.09 154.70L644.29 154.56L644.29 161.16L638.09 161.30ZM652.19 154.39L658.39 154.25L658.39 160.85L652.19 160.99ZM666.28 154.07L672.48 153.93L672.48 160.53L666.28 160.67ZM680.38 153.75L686.58 153.61L686.58 160.22L680.38 160.35ZM694.48 153.44L700.67 153.30L700.67 159.90L694.48 160.04ZM708.57 153.12L714.77 152.98L714.77 159.58L708.57 159.72ZM722.67 152.80L728.87 152.67L728.87 159.27L722.67 159.41ZM736.77 152.49L738.60 152.45L738.60 159.05L736.77 159.09ZM738.60 152.45L742.97 152.45L742.97 159.05L738.60 159.05ZM750.87 152.45L757.07 152.45L757.07 159.05L750.87 159.05ZM764.97 152.45L771.17 152.45L771.17 159.05L764.97 159.05ZM779.07 152.45L785.27 152.45L785.27 159.05L779.07 159.05ZM793.17 152.45L799.37 152.45L799.37 159.05L793.17 159.05ZM807.27 152.45L813.47 152.45L813.47 159.05L807.27 159.05ZM821.37 152.45L827.57 152.45L827.57 159.05L821.37 159.05ZM835.47 152.45L838.50 152.45L838.50 159.05L835.47 159.05ZM838.50 152.45L841.67 152.47L841.67 159.07L838.50 159.05ZM849.56 152.53L855.76 152.58L855.76 159.18L849.56 159.13ZM863.66 152.64L869.86 152.69L869.86 159.29L863.66 159.24ZM877.76 152.75L883.96 152.80L883.96 159.40L877.76 159.35ZM891.86 152.86L898.06 152.91L898.06 159.51L891.86 159.46ZM905.96 152.97L912.16 153.02L912.16 159.62L905.96 159.57ZM920.06 153.08L926.26 153.13L926.26 159.73L920.06 159.68ZM934.16 153.19L936.80 153.21L936.80 159.81L934.16 159.79ZM936.80 153.21L940.36 153.18L940.36 159.78L936.80 159.81ZM948.26 153.12L954.46 153.08L954.46 159.68L948.26 159.72ZM962.36 153.02L968.56 152.97L968.56 159.57L962.36 159.62ZM976.46 152.91L982.66 152.86L982.66 159.46L976.46 159.51ZM990.56 152.80L996.76 152.75L996.76 159.35L990.56 159.40ZM1004.66 152.69L1010.86 152.65L1010.86 159.25L1004.66 159.29ZM1018.76 152.59L1024.96 152.54L1024.96 159.14L1018.76 159.19ZM1032.86 152.48L1036.90 152.45L1036.90 159.05L1032.86 159.08ZM1036.90 152.45L1039.06 152.48L1039.06 159.08L1036.90 159.05ZM1046.96 152.60L1053.16 152.69L1053.16 159.29L1046.96 159.20ZM1061.06 152.81L1067.26 152.90L1067.26 159.51L1061.06 159.41ZM1075.15 153.02L1081.35 153.12L1081.35 159.72L1075.15 159.62ZM1089.25 153.24L1095.45 153.33L1095.45 159.93L1089.25 159.84ZM1103.35 153.45L1109.55 153.54L1109.55 160.14L1103.35 160.05ZM1117.45 153.66L1123.65 153.75L1123.65 160.35L1117.45 160.26ZM1131.55 153.87L1137.75 153.97L1137.75 160.57L1131.55 160.47ZM1145.64 154.30L1151.83 154.59L1151.83 161.19L1145.64 160.91ZM1159.73 154.95L1165.92 155.23L1165.92 161.84L1159.73 161.55ZM1173.81 155.59L1180.00 155.87L1180.00 162.48L1173.81 162.20ZM1187.90 156.23L1194.09 156.52L1194.09 163.12L1187.90 162.84ZM1201.98 156.88L1208.17 157.16L1208.17 163.77L1201.98 163.49ZM1216.07 157.52L1222.26 157.81L1222.26 164.41L1216.07 164.13ZM1230.15 158.17L1236.35 158.45L1236.35 165.06L1230.15 164.77ZM1244.24 158.69L1250.44 158.84L1250.44 165.44L1244.24 165.29ZM1258.34 159.02L1264.54 159.17L1264.54 165.77L1258.34 165.62ZM1272.43 159.36L1278.63 159.50L1278.63 166.10L1272.43 165.96ZM1286.53 159.69L1292.73 159.83L1292.73 166.44L1286.53 166.29ZM1300.63 160.02L1306.82 160.17L1306.82 166.77L1300.63 166.62ZM1314.72 160.35L1320.92 160.50L1320.92 167.10L1314.72 166.96ZM1328.82 160.69L1335.02 160.83L1335.02 167.43L1328.82 167.29ZM1342.92 160.96L1349.11 161.05L1349.11 167.65L1342.92 167.56ZM1357.01 161.17L1363.21 161.27L1363.21 167.87L1357.01 167.77ZM1371.11 161.38L1377.31 161.48L1377.31 168.08L1371.11 167.99ZM1385.21 161.60L1391.41 161.69L1391.41 168.29L1385.21 168.20ZM1399.31 161.81L1405.51 161.90L1405.51 168.50L1399.31 168.41ZM1413.41 162.02L1419.61 162.12L1419.61 168.72L1413.41 168.62ZM1427.51 162.24L1433.70 162.33L1433.70 168.93L1427.51 168.84Z" fill="#00cccc"/><ellipse cx="236.0" cy="201.6" rx="6.9" ry="7.85" fill="#00cccc"/><ellipse cx="339.0" cy="180.2" rx="6.9" ry="7.85" fill="#00cccc"/><ellipse cx="438.8" cy="167.2" rx="6.9" ry="7.85" fill="#00cccc"/><ellipse cx="535.8" cy="160.3" rx="6.9" ry="7.85" fill="#00cccc"/><ellipse cx="636.4" cy="158.0" rx="6.9" ry="7.85" fill="#00cccc"/><ellipse cx="738.6" cy="155.7" rx="6.9" ry="7.85" fill="#00cccc"/><ellipse cx="838.5" cy="155.7" rx="6.9" ry="7.85" fill="#00cccc"/><ellipse cx="936.8" cy="156.5" rx="6.9" ry="7.85" fill="#00cccc"/><ellipse cx="1036.9" cy="155.7" rx="6.9" ry="7.85" fill="#00cccc"/><ellipse cx="1138.4" cy="157.3" rx="6.9" ry="7.85" fill="#00cccc"/><ellipse cx="1238.7" cy="161.9" rx="6.9" ry="7.85" fill="#00cccc"/><ellipse cx="1335.8" cy="164.2" rx="6.9" ry="7.85" fill="#00cccc"/><ellipse cx="1437.0" cy="165.7" rx="6.9" ry="7.85" fill="#00cccc"/>
<path d="M236.00 189.84L238.86 189.35L238.86 196.04L236.00 196.53ZM246.65 188.02L252.76 186.98L252.76 193.67L246.65 194.72ZM260.55 185.65L266.66 184.61L266.66 191.30L260.55 192.34ZM274.44 183.28L280.56 182.23L280.56 188.93L274.44 189.97ZM288.34 180.91L294.46 179.86L294.46 186.56L288.34 187.60ZM302.24 178.54L308.35 177.49L308.35 184.19L302.24 185.23ZM316.14 176.16L322.25 175.12L322.25 181.82L316.14 182.86ZM330.04 173.79L336.15 172.75L336.15 179.45L330.04 180.49ZM343.99 171.84L350.16 171.27L350.16 177.90L343.99 178.47ZM358.03 170.55L364.21 169.98L364.21 176.61L358.03 177.18ZM372.07 169.26L378.25 168.69L378.25 175.32L372.07 175.89ZM386.11 167.97L392.29 167.40L392.29 174.03L386.11 174.60ZM400.15 166.68L406.33 166.11L406.33 172.74L400.15 173.31ZM414.20 165.39L420.37 164.82L420.37 171.45L414.20 172.02ZM428.24 164.10L434.41 163.53L434.41 170.16L428.24 170.73ZM442.28 162.89L448.47 162.45L448.47 169.07L442.28 169.51ZM456.35 161.89L462.53 161.45L462.53 168.07L456.35 168.51ZM470.41 160.89L476.60 160.46L476.60 167.07L470.41 167.51ZM484.48 159.90L490.66 159.46L490.66 166.08L484.48 166.51ZM498.54 158.90L504.73 158.46L504.73 165.08L498.54 165.52ZM512.61 157.90L518.79 157.47L518.79 164.08L512.61 164.52ZM526.67 156.91L532.86 156.47L532.86 163.08L526.67 163.52ZM540.75 156.19L546.95 156.10L546.95 162.70L540.75 162.79ZM554.85 155.98L561.05 155.88L561.05 162.48L554.85 162.58ZM568.94 155.76L575.14 155.67L575.14 162.27L568.94 162.36ZM583.04 155.55L589.24 155.46L589.24 162.06L583.04 162.15ZM597.14 155.34L603.34 155.24L603.34 161.84L597.14 161.94ZM611.24 155.12L617.44 155.03L617.44 161.63L611.24 161.72ZM625.34 154.91L631.54 154.81L631.54 161.41L625.34 161.51ZM639.44 154.69L645.64 154.60L645.64 161.20L639.44 161.29ZM653.53 154.48L659.73 154.39L659.73 160.99L653.53 161.08ZM667.63 154.27L673.83 154.18L673.83 160.78L667.63 160.87ZM681.73 154.06L687.93 153.97L687.93 160.57L681.73 160.66ZM695.83 153.85L702.03 153.76L702.03 160.36L695.83 160.45ZM709.93 153.64L716.13 153.55L716.13 160.15L709.93 160.24ZM724.03 153.43L730.23 153.34L730.23 159.94L724.03 160.03ZM738.13 153.22L738.60 153.21L738.60 159.81L738.13 159.82ZM738.60 153.21L744.33 153.26L744.33 159.86L738.60 159.81ZM752.22 153.32L758.42 153.36L758.42 159.96L752.22 159.92ZM766.32 153.42L772.52 153.47L772.52 160.07L766.32 160.02ZM780.42 153.53L786.62 153.58L786.62 160.18L780.42 160.13ZM794.52 153.64L800.72 153.69L800.72 160.29L794.52 160.24ZM808.62 153.75L814.82 153.79L814.82 160.40L808.62 160.35ZM822.72 153.86L828.92 153.90L828.92 160.50L822.72 160.46ZM836.82 153.96L838.50 153.98L838.50 160.58L836.82 160.56ZM838.50 153.98L843.02 154.01L843.02 160.61L838.50 160.58ZM850.92 154.07L857.12 154.12L857.12 160.72L850.92 160.67ZM865.02 154.18L871.22 154.23L871.22 160.83L865.02 160.78ZM879.12 154.29L885.32 154.34L885.32 160.94L879.12 160.89ZM893.22 154.40L899.42 154.45L899.42 161.05L893.22 161.00ZM907.32 154.51L913.52 154.56L913.52 161.16L907.32 161.11ZM921.42 154.62L927.62 154.67L927.62 161.27L921.42 161.22ZM935.52 154.73L936.80 154.74L936.80 161.34L935.52 161.33ZM936.80 154.74L941.72 154.66L941.72 161.27L936.80 161.34ZM949.62 154.54L955.82 154.45L955.82 161.05L949.62 161.14ZM963.72 154.33L969.92 154.23L969.92 160.83L963.72 160.93ZM977.81 154.11L984.01 154.02L984.01 160.62L977.81 160.71ZM991.91 153.90L998.11 153.80L998.11 160.40L991.91 160.50ZM1006.01 153.68L1012.21 153.59L1012.21 160.19L1006.01 160.28ZM1020.11 153.47L1026.31 153.37L1026.31 159.97L1020.11 160.07ZM1034.21 153.25L1036.90 153.21L1036.90 159.81L1034.21 159.85ZM1036.90 153.21L1040.41 153.26L1040.41 159.87L1036.90 159.81ZM1048.31 153.38L1054.51 153.48L1054.51 160.08L1048.31 159.98ZM1062.40 153.60L1068.60 153.69L1068.60 160.29L1062.40 160.20ZM1076.50 153.81L1082.70 153.90L1082.70 160.50L1076.50 160.41ZM1090.60 154.02L1096.80 154.11L1096.80 160.71L1090.60 160.62ZM1104.70 154.23L1110.90 154.33L1110.90 160.93L1104.70 160.83ZM1118.80 154.44L1125.00 154.54L1125.00 161.14L1118.80 161.05ZM1132.90 154.66L1138.40 154.74L1138.40 161.34L1132.90 161.26ZM1138.40 154.74L1139.10 154.77L1139.10 161.38L1138.40 161.34ZM1146.99 155.13L1153.18 155.41L1153.18 162.02L1146.99 161.74ZM1161.07 155.77L1167.27 156.06L1167.27 162.66L1161.07 162.38ZM1175.16 156.42L1181.35 156.70L1181.35 163.31L1175.16 163.02ZM1189.24 157.06L1195.44 157.34L1195.44 163.95L1189.24 163.67ZM1203.33 157.70L1209.52 157.99L1209.52 164.59L1203.33 164.31ZM1217.41 158.35L1223.61 158.63L1223.61 165.24L1217.41 164.95ZM1231.50 158.99L1237.69 159.27L1237.69 165.88L1231.50 165.60ZM1245.58 159.70L1251.77 160.04L1251.77 166.65L1245.58 166.31ZM1259.66 160.47L1265.85 160.81L1265.85 167.42L1259.66 167.08ZM1273.74 161.25L1279.93 161.59L1279.93 168.20L1273.74 167.86ZM1287.82 162.02L1294.01 162.37L1294.01 168.98L1287.82 168.63ZM1301.90 162.80L1308.09 163.14L1308.09 169.75L1301.90 169.41ZM1315.97 163.58L1322.16 163.92L1322.16 170.53L1315.97 170.19ZM1330.05 164.35L1335.80 164.67L1335.80 171.28L1330.05 170.96ZM1335.80 164.67L1336.24 164.69L1336.24 171.30L1335.80 171.28ZM1344.13 165.11L1350.32 165.43L1350.32 172.04L1344.13 171.72ZM1358.21 165.85L1364.40 166.18L1364.40 172.79L1358.21 172.46ZM1372.29 166.60L1378.48 166.92L1378.48 173.53L1372.29 173.21ZM1386.37 167.34L1392.57 167.67L1392.57 174.28L1386.37 173.95ZM1400.45 168.08L1406.65 168.41L1406.65 175.02L1400.45 174.69ZM1414.53 168.83L1420.73 169.16L1420.73 175.76L1414.53 175.44ZM1428.61 169.57L1434.81 169.90L1434.81 176.51L1428.61 176.18Z" fill="#009900"/><ellipse cx="236.0" cy="193.2" rx="6.9" ry="7.85" fill="#009900"/><ellipse cx="339.0" cy="175.6" rx="6.9" ry="7.85" fill="#009900"/><ellipse cx="438.8" cy="166.4" rx="6.9" ry="7.85" fill="#009900"/><ellipse cx="535.8" cy="159.6" rx="6.9" ry="7.85" fill="#009900"/><ellipse cx="636.4" cy="158.0" rx="6.9" ry="7.85" fill="#009900"/><ellipse cx="738.6" cy="156.5" rx="6.9" ry="7.85" fill="#009900"/><ellipse cx="838.5" cy="157.3" rx="6.9" ry="7.85" fill="#009900"/><ellipse cx="936.8" cy="158.0" rx="6.9" ry="7.85" fill="#009900"/><ellipse cx="1036.9" cy="156.5" rx="6.9" ry="7.85" fill="#009900"/><ellipse cx="1138.4" cy="158.0" rx="6.9" ry="7.85" fill="#009900"/><ellipse cx="1238.7" cy="162.6" rx="6.9" ry="7.85" fill="#009900"/><ellipse cx="1335.8" cy="168.0" rx="6.9" ry="7.85" fill="#009900"/><ellipse cx="1437.0" cy="173.3" rx="6.9" ry="7.85" fill="#009900"/>
<path d="M236.00 187.55L238.87 187.11L238.87 193.79L236.00 194.23ZM246.67 185.89L252.80 184.94L252.80 191.62L246.67 192.57ZM260.60 183.72L266.73 182.77L266.73 189.45L260.60 190.40ZM274.54 181.55L280.66 180.60L280.66 187.28L274.54 188.23ZM288.47 179.38L294.59 178.43L294.59 185.10L288.47 186.06ZM302.40 177.21L308.53 176.26L308.53 182.93L302.40 183.89ZM316.33 175.04L322.46 174.08L322.46 180.76L316.33 181.72ZM330.26 172.87L336.39 171.91L336.39 178.59L330.26 179.55ZM344.24 171.10L350.42 170.57L350.42 177.20L344.24 177.72ZM358.29 169.91L364.47 169.39L364.47 176.02L358.29 176.54ZM372.34 168.73L378.52 168.21L378.52 174.83L372.34 175.35ZM386.39 167.55L392.57 167.03L392.57 173.65L386.39 174.17ZM400.44 166.36L406.62 165.84L406.62 172.47L400.44 172.99ZM414.49 165.18L420.67 164.66L420.67 171.28L414.49 171.80ZM428.54 164.00L434.72 163.48L434.72 170.10L428.54 170.62ZM442.60 162.90L448.78 162.51L448.78 169.12L442.60 169.51ZM456.67 162.01L462.86 161.62L462.86 168.23L456.67 168.62ZM470.74 161.12L476.93 160.73L476.93 167.35L470.74 167.74ZM484.81 160.24L491.00 159.85L491.00 166.46L484.81 166.85ZM498.89 159.35L505.07 158.96L505.07 165.57L498.89 165.96ZM512.96 158.46L519.15 158.07L519.15 164.69L512.96 165.08ZM527.03 157.58L533.22 157.19L533.22 163.80L527.03 164.19ZM541.11 156.95L547.31 156.86L547.31 163.46L541.11 163.55ZM555.21 156.74L561.41 156.64L561.41 163.24L555.21 163.34ZM569.31 156.52L575.51 156.43L575.51 163.03L569.31 163.12ZM583.41 156.31L589.61 156.21L589.61 162.82L583.41 162.91ZM597.51 156.09L603.70 156.00L603.70 162.60L597.51 162.70ZM611.60 155.88L617.80 155.79L617.80 162.39L611.60 162.48ZM625.70 155.67L631.90 155.57L631.90 162.17L625.70 162.27ZM639.80 155.45L646.00 155.36L646.00 161.96L639.80 162.05ZM653.90 155.24L660.10 155.15L660.10 161.75L653.90 161.84ZM668.00 155.03L674.20 154.94L674.20 161.54L668.00 161.63ZM682.10 154.82L688.29 154.73L688.29 161.33L682.10 161.42ZM696.19 154.61L702.39 154.52L702.39 161.12L696.19 161.21ZM710.29 154.40L716.49 154.31L716.49 160.91L710.29 161.00ZM724.39 154.19L730.59 154.10L730.59 160.70L724.39 160.79ZM738.49 153.98L738.60 153.98L738.60 160.58L738.49 160.58ZM738.60 153.98L744.69 154.07L744.69 160.67L738.60 160.58ZM752.59 154.19L758.79 154.28L758.79 160.89L752.59 160.79ZM766.69 154.41L772.89 154.50L772.89 161.10L766.69 161.01ZM780.78 154.62L786.98 154.72L786.98 161.32L780.78 161.22ZM794.88 154.84L801.08 154.93L801.08 161.53L794.88 161.44ZM808.98 155.05L815.18 155.15L815.18 161.75L808.98 161.65ZM823.08 155.27L829.28 155.36L829.28 161.96L823.08 161.87ZM837.18 155.48L838.50 155.50L838.50 162.10L837.18 162.08ZM838.50 155.50L843.38 155.54L843.38 162.14L838.50 162.10ZM851.28 155.60L857.48 155.65L857.48 162.25L851.28 162.20ZM865.38 155.71L871.58 155.76L871.58 162.36L865.38 162.31ZM879.48 155.82L885.68 155.87L885.68 162.47L879.48 162.42ZM893.58 155.93L899.78 155.98L899.78 162.58L893.58 162.53ZM907.68 156.04L913.88 156.09L913.88 162.69L907.68 162.64ZM921.78 156.15L927.97 156.20L927.97 162.80L921.78 162.75ZM935.87 156.26L936.80 156.27L936.80 162.87L935.87 162.86ZM936.80 156.27L942.07 156.15L942.07 162.75L936.80 162.87ZM949.97 155.97L956.17 155.82L956.17 162.43L949.97 162.57ZM964.07 155.64L970.27 155.50L970.27 162.10L964.07 162.24ZM978.16 155.32L984.36 155.18L984.36 161.78L978.16 161.92ZM992.26 155.00L998.46 154.86L998.46 161.46L992.26 161.60ZM1006.36 154.67L1012.55 154.53L1012.55 161.13L1006.36 161.28ZM1020.45 154.35L1026.65 154.21L1026.65 160.81L1020.45 160.95ZM1034.55 154.03L1036.90 153.98L1036.90 160.58L1034.55 160.63ZM1036.90 153.98L1040.75 154.03L1040.75 160.63L1036.90 160.58ZM1048.65 154.15L1054.85 154.25L1054.85 160.85L1048.65 160.75ZM1062.75 154.36L1068.94 154.46L1068.94 161.06L1062.75 160.97ZM1076.84 154.58L1083.04 154.67L1083.04 161.27L1076.84 161.18ZM1090.94 154.79L1097.14 154.88L1097.14 161.48L1090.94 161.39ZM1105.04 155.00L1111.24 155.09L1111.24 161.70L1105.04 161.60ZM1119.14 155.21L1125.34 155.31L1125.34 161.91L1119.14 161.81ZM1133.24 155.43L1138.40 155.50L1138.40 162.10L1133.24 162.03ZM1138.40 155.50L1139.44 155.55L1139.44 162.15L1138.40 162.11ZM1147.33 155.91L1153.52 156.19L1153.52 162.80L1147.33 162.52ZM1161.41 156.55L1167.61 156.84L1167.61 163.44L1161.41 163.16ZM1175.50 157.20L1181.69 157.48L1181.69 164.09L1175.50 163.80ZM1189.58 157.84L1195.78 158.12L1195.78 164.73L1189.58 164.45ZM1203.67 158.48L1209.86 158.77L1209.86 165.37L1203.67 165.09ZM1217.75 159.13L1223.95 159.41L1223.95 166.02L1217.75 165.73ZM1231.84 159.77L1238.03 160.05L1238.03 166.66L1231.84 166.38ZM1245.88 160.91L1252.04 161.64L1252.04 168.29L1245.88 167.56ZM1259.89 162.57L1266.04 163.29L1266.04 169.94L1259.89 169.21ZM1273.89 164.22L1280.05 164.94L1280.05 171.59L1273.89 170.86ZM1287.89 165.87L1294.05 166.60L1294.05 173.24L1287.89 172.52ZM1301.89 167.52L1308.05 168.25L1308.05 174.90L1301.89 174.17ZM1315.90 169.18L1322.05 169.90L1322.05 176.55L1315.90 175.82ZM1329.90 170.83L1335.80 171.53L1335.80 178.17L1329.90 177.47ZM1335.80 171.53L1336.06 171.56L1336.06 178.20L1335.80 178.17ZM1343.91 172.44L1350.07 173.14L1350.07 179.78L1343.91 179.09ZM1357.92 174.03L1364.08 174.73L1364.08 181.37L1357.92 180.67ZM1371.93 175.62L1378.09 176.32L1378.09 182.96L1371.93 182.26ZM1385.94 177.20L1392.10 177.90L1392.10 184.54L1385.94 183.85ZM1399.95 178.79L1406.11 179.49L1406.11 186.13L1399.95 185.43ZM1413.96 180.38L1420.12 181.08L1420.12 187.72L1413.96 187.02ZM1427.97 181.96L1434.13 182.66L1434.13 189.30L1427.97 188.61Z" fill="#00cc00"/><ellipse cx="236.0" cy="190.9" rx="6.9" ry="7.85" fill="#00cc00"/><ellipse cx="339.0" cy="174.8" rx="6.9" ry="7.85" fill="#00cc00"/><ellipse cx="438.8" cy="166.4" rx="6.9" ry="7.85" fill="#00cc00"/><ellipse cx="535.8" cy="160.3" rx="6.9" ry="7.85" fill="#00cc00"/><ellipse cx="636.4" cy="158.8" rx="6.9" ry="7.85" fill="#00cc00"/><ellipse cx="738.6" cy="157.3" rx="6.9" ry="7.85" fill="#00cc00"/><ellipse cx="838.5" cy="158.8" rx="6.9" ry="7.85" fill="#00cc00"/><ellipse cx="936.8" cy="159.6" rx="6.9" ry="7.85" fill="#00cc00"/><ellipse cx="1036.9" cy="157.3" rx="6.9" ry="7.85" fill="#00cc00"/><ellipse cx="1138.4" cy="158.8" rx="6.9" ry="7.85" fill="#00cc00"/><ellipse cx="1238.7" cy="163.4" rx="6.9" ry="7.85" fill="#00cc00"/><ellipse cx="1335.8" cy="174.8" rx="6.9" ry="7.85" fill="#00cc00"/><ellipse cx="1437.0" cy="186.3" rx="6.9" ry="7.85" fill="#00cc00"/>
<path d="M236.00 181.47L239.89 181.18L239.89 187.80L236.00 188.09ZM247.77 180.60L253.95 180.14L253.95 186.76L247.77 187.22ZM261.83 179.56L268.01 179.10L268.01 185.71L261.83 186.17ZM275.89 178.51L282.07 178.05L282.07 184.67L275.89 185.13ZM289.95 177.47L296.13 177.01L296.13 183.63L289.95 184.09ZM304.01 176.43L310.20 175.97L310.20 182.59L304.01 183.04ZM318.07 175.38L324.26 174.92L324.26 181.54L318.07 182.00ZM332.14 174.34L338.32 173.88L338.32 180.50L332.14 180.96ZM346.21 173.51L352.40 173.22L352.40 179.83L346.21 180.11ZM360.29 172.86L366.49 172.57L366.49 179.18L360.29 179.47ZM374.38 172.21L380.57 171.93L380.57 178.53L374.38 178.82ZM388.46 171.56L394.66 171.28L394.66 177.89L388.46 178.17ZM402.55 170.92L408.74 170.63L408.74 177.24L402.55 177.52ZM416.64 170.27L422.83 169.99L422.83 176.59L416.64 176.88ZM430.72 169.62L436.91 169.34L436.91 175.95L430.72 176.23ZM444.81 169.02L451.00 168.77L451.00 175.38L444.81 175.62ZM458.90 168.46L465.09 168.22L465.09 174.82L458.90 175.07ZM472.99 167.91L479.18 167.66L479.18 174.27L472.99 174.51ZM487.07 167.35L493.27 167.11L493.27 173.71L487.07 173.96ZM501.16 166.80L507.36 166.55L507.36 173.16L501.16 173.40ZM515.25 166.24L521.45 166.00L521.45 172.60L515.25 172.85ZM529.34 165.69L535.54 165.44L535.54 172.05L529.34 172.29ZM543.44 165.32L549.64 165.23L549.64 171.83L543.44 171.92ZM557.53 165.11L563.73 165.01L563.73 171.61L557.53 171.71ZM571.63 164.89L577.83 164.80L577.83 171.40L571.63 171.49ZM585.73 164.68L591.93 164.58L591.93 171.18L585.73 171.28ZM599.83 164.46L606.03 164.37L606.03 170.97L599.83 171.06ZM613.93 164.25L620.13 164.15L620.13 170.76L613.93 170.85ZM628.03 164.03L634.23 163.94L634.23 170.54L628.03 170.64ZM642.12 164.04L648.32 164.17L648.32 170.78L642.12 170.64ZM656.22 164.35L662.42 164.49L662.42 171.09L656.22 170.95ZM670.32 164.67L676.51 164.81L676.51 171.41L670.32 171.27ZM684.41 164.98L690.61 165.12L690.61 171.72L684.41 171.59ZM698.51 165.30L704.71 165.44L704.71 172.04L698.51 171.90ZM712.61 165.62L718.80 165.76L718.80 172.36L712.61 172.22ZM726.70 165.93L732.90 166.07L732.90 172.67L726.70 172.53ZM740.80 166.20L747.00 166.20L747.00 172.80L740.80 172.80ZM754.90 166.20L761.10 166.20L761.10 172.80L754.90 172.80ZM769.00 166.20L775.20 166.20L775.20 172.80L769.00 172.80ZM783.10 166.20L789.30 166.20L789.30 172.80L783.10 172.80ZM797.20 166.20L803.40 166.20L803.40 172.80L797.20 172.80ZM811.30 166.20L817.50 166.20L817.50 172.80L811.30 172.80ZM825.40 166.20L831.60 166.20L831.60 172.80L825.40 172.80ZM839.50 166.20L845.70 166.20L845.70 172.80L839.50 172.80ZM853.60 166.20L859.80 166.20L859.80 172.80L853.60 172.80ZM867.70 166.20L873.90 166.20L873.90 172.80L867.70 172.80ZM881.80 166.20L888.00 166.20L888.00 172.80L881.80 172.80ZM895.90 166.20L902.10 166.20L902.10 172.80L895.90 172.80ZM910.00 166.20L916.20 166.20L916.20 172.80L910.00 172.80ZM924.10 166.20L930.30 166.20L930.30 172.80L924.10 172.80ZM938.20 166.21L944.40 166.26L944.40 172.86L938.20 172.81ZM952.30 166.32L958.50 166.37L958.50 172.97L952.30 172.92ZM966.40 166.43L972.60 166.47L972.60 173.07L966.40 173.03ZM980.50 166.53L986.70 166.58L986.70 173.18L980.50 173.13ZM994.60 166.64L1000.80 166.69L1000.80 173.29L994.60 173.24ZM1008.70 166.75L1014.90 166.80L1014.90 173.40L1008.70 173.35ZM1022.80 166.86L1029.00 166.90L1029.00 173.50L1022.80 173.46ZM1036.90 166.96L1036.90 166.96L1036.90 173.56L1036.90 173.56ZM1036.90 166.96L1043.09 167.10L1043.09 173.70L1036.90 173.56ZM1050.99 167.28L1057.19 167.42L1057.19 174.02L1050.99 173.88ZM1065.09 167.60L1071.29 167.74L1071.29 174.34L1065.09 174.20ZM1079.19 167.92L1085.38 168.06L1085.38 174.66L1079.19 174.52ZM1093.28 168.24L1099.48 168.38L1099.48 174.98L1093.28 174.84ZM1107.38 168.55L1113.58 168.69L1113.58 175.30L1107.38 175.16ZM1121.47 168.87L1127.67 169.01L1127.67 175.61L1121.47 175.47ZM1135.57 169.19L1138.40 169.26L1138.40 175.86L1135.57 175.79ZM1138.40 169.25L1141.77 169.43L1141.77 176.04L1138.40 175.86ZM1149.65 169.85L1155.85 170.18L1155.85 176.79L1149.65 176.46ZM1163.73 170.60L1169.93 170.93L1169.93 177.54L1163.73 177.21ZM1177.81 171.35L1184.01 171.68L1184.01 178.29L1177.81 177.96ZM1191.89 172.10L1198.09 172.43L1198.09 179.04L1191.89 178.71ZM1205.97 172.85L1212.17 173.18L1212.17 179.79L1205.97 179.46ZM1220.05 173.61L1226.25 173.94L1226.25 180.54L1220.05 180.21ZM1234.13 174.36L1238.70 174.60L1238.70 181.21L1234.13 180.97ZM1238.70 174.58L1240.32 174.78L1240.32 181.43L1238.70 181.23ZM1248.15 175.77L1254.30 176.54L1254.30 183.19L1248.15 182.42ZM1262.14 177.53L1268.29 178.30L1268.29 184.96L1262.14 184.18ZM1276.13 179.29L1282.28 180.06L1282.28 186.72L1276.13 185.94ZM1290.12 181.05L1296.27 181.83L1296.27 188.48L1290.12 187.70ZM1304.11 182.81L1310.26 183.59L1310.26 190.24L1304.11 189.46ZM1318.10 184.57L1324.25 185.35L1324.25 192.00L1318.10 191.23ZM1332.09 186.34L1335.80 186.80L1335.80 193.45L1332.09 192.99ZM1335.80 186.76L1338.21 187.26L1338.21 194.01L1335.80 193.50ZM1345.94 188.90L1352.00 190.18L1352.00 196.93L1345.94 195.64ZM1359.73 191.81L1365.80 193.10L1365.80 199.84L1359.73 198.56ZM1373.53 194.73L1379.59 196.01L1379.59 202.76L1373.53 201.48ZM1387.32 197.65L1393.39 198.93L1393.39 205.67L1387.32 204.39ZM1401.12 200.56L1407.18 201.84L1407.18 208.59L1401.12 207.31ZM1414.91 203.48L1420.98 204.76L1420.98 211.51L1414.91 210.22ZM1428.71 206.39L1434.77 207.68L1434.77 214.42L1428.71 213.14Z" fill="#ffad00"/><ellipse cx="236.0" cy="184.8" rx="6.9" ry="7.85" fill="#ffad00"/><ellipse cx="339.0" cy="177.1" rx="6.9" ry="7.85" fill="#ffad00"/><ellipse cx="438.8" cy="172.6" rx="6.9" ry="7.85" fill="#ffad00"/><ellipse cx="535.8" cy="168.7" rx="6.9" ry="7.85" fill="#ffad00"/><ellipse cx="636.4" cy="167.2" rx="6.9" ry="7.85" fill="#ffad00"/><ellipse cx="738.6" cy="169.5" rx="6.9" ry="7.85" fill="#ffad00"/><ellipse cx="838.5" cy="169.5" rx="6.9" ry="7.85" fill="#ffad00"/><ellipse cx="936.8" cy="169.5" rx="6.9" ry="7.85" fill="#ffad00"/><ellipse cx="1036.9" cy="170.3" rx="6.9" ry="7.85" fill="#ffad00"/><ellipse cx="1138.4" cy="172.6" rx="6.9" ry="7.85" fill="#ffad00"/><ellipse cx="1238.7" cy="177.9" rx="6.9" ry="7.85" fill="#ffad00"/><ellipse cx="1335.8" cy="190.1" rx="6.9" ry="7.85" fill="#ffad00"/><ellipse cx="1437.0" cy="211.5" rx="6.9" ry="7.85" fill="#ffad00"/>
<path d="M239.55 194.41L245.75 194.32L245.75 200.92L239.55 201.02ZM253.65 194.21L259.85 194.11L259.85 200.71L253.65 200.81ZM267.75 194.00L273.95 193.90L273.95 200.51L267.75 200.60ZM281.84 193.79L288.04 193.70L288.04 200.30L281.84 200.39ZM295.94 193.58L302.14 193.49L302.14 200.09L295.94 200.18ZM310.04 193.37L316.24 193.28L316.24 199.88L310.04 199.97ZM324.14 193.16L330.34 193.07L330.34 199.67L324.14 199.76ZM338.24 192.95L339.00 192.94L339.00 199.54L338.24 199.55ZM339.00 192.94L344.44 192.90L344.44 199.50L339.00 199.54ZM352.34 192.84L358.54 192.79L358.54 199.39L352.34 199.44ZM366.44 192.73L372.64 192.68L372.64 199.28L366.44 199.33ZM380.54 192.62L386.74 192.57L386.74 199.17L380.54 199.22ZM394.64 192.51L400.84 192.47L400.84 199.07L394.64 199.11ZM408.74 192.41L414.94 192.36L414.94 198.96L408.74 199.01ZM422.84 192.30L429.04 192.25L429.04 198.85L422.84 198.90ZM436.94 192.19L438.80 192.18L438.80 198.78L436.94 198.79ZM438.80 192.18L443.13 192.07L443.13 198.67L438.80 198.78ZM451.03 191.89L457.23 191.74L457.23 198.34L451.03 198.49ZM465.13 191.55L471.33 191.41L471.33 198.01L465.13 198.15ZM479.22 191.22L485.42 191.07L485.42 197.68L479.22 197.82ZM493.32 190.89L499.52 190.74L499.52 197.34L493.32 197.49ZM507.42 190.55L513.61 190.41L513.61 197.01L507.42 197.16ZM521.51 190.22L527.71 190.07L527.71 196.68L521.51 196.82ZM535.61 189.89L535.80 189.88L535.80 196.48L535.61 196.49ZM535.80 189.88L541.81 189.88L541.81 196.48L535.80 196.48ZM549.71 189.88L555.91 189.88L555.91 196.48L549.71 196.48ZM563.81 189.88L570.01 189.88L570.01 196.48L563.81 196.48ZM577.91 189.88L584.11 189.88L584.11 196.48L577.91 196.48ZM592.01 189.88L598.21 189.88L598.21 196.48L592.01 196.48ZM606.11 189.88L612.31 189.88L612.31 196.48L606.11 196.48ZM620.21 189.88L626.41 189.88L626.41 196.48L620.21 196.48ZM634.31 189.88L636.40 189.88L636.40 196.48L634.31 196.48ZM636.40 189.88L640.51 190.04L640.51 196.64L636.40 196.49ZM648.40 190.33L654.60 190.56L654.60 197.17L648.40 196.93ZM662.49 190.86L668.69 191.09L668.69 197.69L662.49 197.46ZM676.58 191.38L682.78 191.62L682.78 198.22L676.58 197.99ZM690.67 191.91L696.87 192.14L696.87 198.75L690.67 198.51ZM704.76 192.44L710.96 192.67L710.96 199.27L704.76 199.04ZM718.85 192.96L725.05 193.20L725.05 199.80L718.85 199.57ZM732.94 193.49L738.60 193.70L738.60 200.31L732.94 200.09ZM738.60 193.70L739.14 193.70L739.14 200.30L738.60 200.30ZM747.04 193.70L753.24 193.70L753.24 200.30L747.04 200.30ZM761.14 193.70L767.34 193.70L767.34 200.30L761.14 200.30ZM775.24 193.70L781.44 193.70L781.44 200.30L775.24 200.30ZM789.34 193.70L795.54 193.70L795.54 200.30L789.34 200.30ZM803.44 193.70L809.64 193.70L809.64 200.30L803.44 200.30ZM817.54 193.70L823.74 193.70L823.74 200.30L817.54 200.30ZM831.64 193.70L837.84 193.70L837.84 200.30L831.64 200.30ZM845.74 193.76L851.94 193.81L851.94 200.41L845.74 200.36ZM859.84 193.87L866.04 193.92L866.04 200.52L859.84 200.47ZM873.94 193.98L880.14 194.03L880.14 200.63L873.94 200.58ZM888.04 194.09L894.24 194.14L894.24 200.74L888.04 200.69ZM902.14 194.20L908.34 194.25L908.34 200.85L902.14 200.80ZM916.23 194.31L922.43 194.36L922.43 200.96L916.23 200.91ZM930.33 194.42L936.53 194.47L936.53 201.07L930.33 201.02ZM944.43 194.58L950.63 194.68L950.63 201.28L944.43 201.18ZM958.53 194.80L964.73 194.89L964.73 201.49L958.53 201.40ZM972.63 195.01L978.83 195.11L978.83 201.71L972.63 201.62ZM986.73 195.23L992.93 195.32L992.93 201.93L986.73 201.83ZM1000.83 195.44L1007.03 195.54L1007.03 202.14L1000.83 202.05ZM1014.93 195.66L1021.12 195.75L1021.12 202.36L1014.93 202.26ZM1029.02 195.88L1035.22 195.97L1035.22 202.57L1029.02 202.48ZM1043.12 196.23L1049.31 196.46L1049.31 203.07L1043.12 202.83ZM1057.21 196.76L1063.40 196.99L1063.40 203.60L1057.21 203.36ZM1071.30 197.29L1077.49 197.52L1077.49 204.13L1071.30 203.89ZM1085.39 197.82L1091.58 198.05L1091.58 204.66L1085.39 204.42ZM1099.48 198.35L1105.67 198.58L1105.67 205.19L1099.48 204.95ZM1113.57 198.88L1119.76 199.11L1119.76 205.72L1113.57 205.48ZM1127.66 199.41L1133.85 199.64L1133.85 206.25L1127.66 206.01ZM1141.73 200.17L1147.89 200.88L1147.89 207.52L1141.73 206.82ZM1155.74 201.78L1161.90 202.48L1161.90 209.12L1155.74 208.42ZM1169.75 203.38L1175.91 204.08L1175.91 210.72L1169.75 210.02ZM1183.76 204.98L1189.92 205.68L1189.92 212.32L1183.76 211.62ZM1197.76 206.58L1203.92 207.28L1203.92 213.92L1197.76 213.22ZM1211.77 208.18L1217.93 208.88L1217.93 215.52L1211.77 214.82ZM1225.78 209.78L1231.94 210.48L1231.94 217.13L1225.78 216.42ZM1239.77 211.43L1245.84 212.72L1245.84 219.47L1239.77 218.18ZM1253.57 214.36L1259.63 215.65L1259.63 222.40L1253.57 221.11ZM1267.36 217.29L1273.42 218.58L1273.42 225.33L1267.36 224.04ZM1281.15 220.22L1287.22 221.51L1287.22 228.26L1281.15 226.97ZM1294.94 223.15L1301.01 224.44L1301.01 231.19L1294.94 229.90ZM1308.74 226.08L1314.80 227.37L1314.80 234.12L1308.74 232.83ZM1322.53 229.01L1328.59 230.30L1328.59 237.05L1322.53 235.76ZM1336.30 231.88L1342.14 233.95L1342.14 240.96L1336.30 238.88ZM1349.59 236.60L1355.43 238.67L1355.43 245.67L1349.59 243.60ZM1362.88 241.31L1368.72 243.38L1368.72 250.39L1362.88 248.31ZM1376.17 246.03L1382.01 248.10L1382.01 255.10L1376.17 253.03ZM1389.45 250.74L1395.30 252.81L1395.30 259.82L1389.45 257.74ZM1402.74 255.46L1408.59 257.53L1408.59 264.53L1402.74 262.46ZM1416.03 260.17L1421.87 262.24L1421.87 269.25L1416.03 267.17ZM1429.32 264.88L1435.16 266.96L1435.16 273.96L1429.32 271.89Z" fill="#ff0000"/><ellipse cx="236.0" cy="197.8" rx="6.9" ry="7.85" fill="#ff0000"/><ellipse cx="339.0" cy="196.2" rx="6.9" ry="7.85" fill="#ff0000"/><ellipse cx="438.8" cy="195.5" rx="6.9" ry="7.85" fill="#ff0000"/><ellipse cx="535.8" cy="193.2" rx="6.9" ry="7.85" fill="#ff0000"/><ellipse cx="636.4" cy="193.2" rx="6.9" ry="7.85" fill="#ff0000"/><ellipse cx="738.6" cy="197.0" rx="6.9" ry="7.85" fill="#ff0000"/><ellipse cx="838.5" cy="197.0" rx="6.9" ry="7.85" fill="#ff0000"/><ellipse cx="936.8" cy="197.8" rx="6.9" ry="7.85" fill="#ff0000"/><ellipse cx="1036.9" cy="199.3" rx="6.9" ry="7.85" fill="#ff0000"/><ellipse cx="1138.4" cy="203.1" rx="6.9" ry="7.85" fill="#ff0000"/><ellipse cx="1238.7" cy="214.6" rx="6.9" ry="7.85" fill="#ff0000"/><ellipse cx="1335.8" cy="235.2" rx="6.9" ry="7.85" fill="#ff0000"/><ellipse cx="1437.0" cy="271.1" rx="6.9" ry="7.85" fill="#ff0000"/>
<path d="M241.75 269.98L247.95 269.84L247.95 276.44L241.75 276.58ZM255.85 269.66L262.04 269.52L262.04 276.13L255.85 276.26ZM269.94 269.35L276.14 269.21L276.14 275.81L269.94 275.95ZM284.04 269.03L290.24 268.90L290.24 275.50L284.04 275.64ZM298.13 268.72L304.33 268.58L304.33 275.18L298.13 275.32ZM312.23 268.41L318.43 268.27L318.43 274.87L312.23 275.01ZM326.33 268.09L332.53 267.96L332.53 274.56L326.33 274.69ZM340.42 267.81L346.62 267.81L346.62 274.41L340.42 274.41ZM354.52 267.81L360.72 267.81L360.72 274.41L354.52 274.41ZM368.62 267.81L374.82 267.81L374.82 274.41L368.62 274.41ZM382.72 267.81L388.92 267.81L388.92 274.41L382.72 274.41ZM396.82 267.81L403.02 267.81L403.02 274.41L396.82 274.41ZM410.92 267.81L417.12 267.81L417.12 274.41L410.92 274.41ZM425.02 267.81L431.22 267.81L431.22 274.41L425.02 274.41ZM439.12 267.81L445.32 267.81L445.32 274.41L439.12 274.41ZM453.22 267.81L459.42 267.81L459.42 274.41L453.22 274.41ZM467.32 267.81L473.52 267.81L473.52 274.41L467.32 274.41ZM481.42 267.81L487.62 267.81L487.62 274.41L481.42 274.41ZM495.52 267.81L501.72 267.81L501.72 274.41L495.52 274.41ZM509.62 267.81L515.82 267.81L515.82 274.41L509.62 274.41ZM523.72 267.81L529.92 267.81L529.92 274.41L523.72 274.41ZM537.82 267.90L544.02 268.18L544.02 274.79L537.82 274.51ZM551.91 268.54L558.10 268.82L558.10 275.43L551.91 275.15ZM565.99 269.18L572.19 269.47L572.19 276.07L565.99 275.79ZM580.08 269.83L586.27 270.11L586.27 276.72L580.08 276.43ZM594.16 270.47L600.36 270.75L600.36 277.36L594.16 277.07ZM608.25 271.11L614.44 271.39L614.44 278.00L608.25 277.72ZM622.33 271.75L628.53 272.03L628.53 278.64L622.33 278.36ZM636.42 272.40L642.62 272.44L642.62 279.04L636.42 279.00ZM650.52 272.50L656.72 272.55L656.72 279.15L650.52 279.10ZM664.62 272.61L670.82 272.65L670.82 279.25L664.62 279.21ZM678.72 272.71L684.92 272.76L684.92 279.36L678.72 279.31ZM692.82 272.82L699.02 272.86L699.02 279.46L692.82 279.42ZM706.92 272.92L713.12 272.97L713.12 279.57L706.92 279.52ZM721.02 273.03L727.22 273.07L727.22 279.68L721.02 279.63ZM735.12 273.13L738.60 273.16L738.60 279.76L735.12 279.73ZM738.60 273.16L741.32 273.26L741.32 279.87L738.60 279.76ZM749.21 273.56L755.40 273.80L755.40 280.41L749.21 280.17ZM763.30 274.10L769.49 274.34L769.49 280.94L763.30 280.71ZM777.39 274.64L783.58 274.88L783.58 281.48L777.39 281.25ZM791.48 275.18L797.67 275.42L797.67 282.02L791.48 281.78ZM805.57 275.72L811.76 275.96L811.76 282.56L805.57 282.32ZM819.66 276.26L825.85 276.49L825.85 283.10L819.66 282.86ZM833.75 276.80L838.50 276.98L838.50 283.58L833.75 283.40ZM838.50 276.98L839.94 277.00L839.94 283.60L838.50 283.58ZM847.84 277.12L854.04 277.22L854.04 283.82L847.84 283.73ZM861.94 277.34L868.14 277.44L868.14 284.04L861.94 283.94ZM876.04 277.56L882.24 277.66L882.24 284.26L876.04 284.16ZM890.14 277.78L896.34 277.88L896.34 284.48L890.14 284.38ZM904.24 278.00L910.44 278.10L910.44 284.70L904.24 284.60ZM918.33 278.22L924.53 278.32L924.53 284.92L918.33 284.82ZM932.43 278.44L936.80 278.51L936.80 285.11L932.43 285.04ZM936.80 278.51L938.63 278.58L938.63 285.18L936.80 285.11ZM946.53 278.88L952.72 279.11L952.72 285.72L946.53 285.48ZM960.62 279.41L966.81 279.65L966.81 286.26L960.62 286.02ZM974.70 279.95L980.90 280.19L980.90 286.79L974.70 286.56ZM988.79 280.49L994.99 280.73L994.99 287.33L988.79 287.09ZM1002.88 281.03L1009.08 281.26L1009.08 287.87L1002.88 287.63ZM1016.97 281.57L1023.17 281.80L1023.17 288.41L1016.97 288.17ZM1031.06 282.10L1036.90 282.33L1036.90 288.93L1031.06 288.71ZM1036.90 282.31L1037.26 282.35L1037.26 288.97L1036.90 288.94ZM1045.13 283.06L1051.30 283.62L1051.30 290.24L1045.13 289.68ZM1059.17 284.33L1065.34 284.88L1065.34 291.51L1059.17 290.95ZM1073.21 285.59L1079.39 286.15L1079.39 292.78L1073.21 292.22ZM1087.25 286.86L1093.43 287.42L1093.43 294.05L1087.25 293.49ZM1101.30 288.13L1107.47 288.69L1107.47 295.32L1101.30 294.76ZM1115.34 289.40L1121.52 289.96L1121.52 296.58L1115.34 296.03ZM1129.38 290.67L1135.56 291.23L1135.56 297.85L1129.38 297.29ZM1143.38 292.25L1149.51 293.23L1149.51 299.91L1143.38 298.94ZM1157.31 294.48L1163.43 295.46L1163.43 302.14L1157.31 301.16ZM1171.23 296.71L1177.35 297.68L1177.35 304.37L1171.23 303.39ZM1185.15 298.93L1191.27 299.91L1191.27 306.60L1185.15 305.62ZM1199.07 301.16L1205.20 302.14L1205.20 308.82L1199.07 307.84ZM1213.00 303.39L1219.12 304.37L1219.12 311.05L1213.00 310.07ZM1226.92 305.61L1233.04 306.59L1233.04 313.28L1226.92 312.30ZM1240.79 307.99L1246.77 309.64L1246.77 316.49L1240.79 314.84ZM1254.39 311.74L1260.36 313.38L1260.36 320.23L1254.39 318.58ZM1267.98 315.48L1273.96 317.13L1273.96 323.97L1267.98 322.33ZM1281.58 319.22L1287.55 320.87L1287.55 327.72L1281.58 326.07ZM1295.17 322.97L1301.15 324.61L1301.15 331.46L1295.17 329.81ZM1308.76 326.71L1314.74 328.36L1314.74 335.20L1308.76 333.56ZM1322.36 330.46L1328.33 332.10L1328.33 338.95L1322.36 337.30ZM1335.95 334.13L1341.79 336.20L1341.79 343.21L1335.95 341.13ZM1349.24 338.85L1355.08 340.92L1355.08 347.92L1349.24 345.85ZM1362.52 343.56L1368.37 345.63L1368.37 352.64L1362.52 350.56ZM1375.81 348.28L1381.66 350.35L1381.66 357.35L1375.81 355.28ZM1389.10 352.99L1394.94 355.06L1394.94 362.07L1389.10 359.99ZM1402.39 357.71L1408.23 359.78L1408.23 366.78L1402.39 364.71ZM1415.68 362.42L1421.52 364.49L1421.52 371.50L1415.68 369.42ZM1428.97 367.14L1434.81 369.21L1434.81 376.21L1428.97 374.14Z" fill="#ff8080"/><ellipse cx="236.0" cy="273.4" rx="6.9" ry="7.85" fill="#ff8080"/><ellipse cx="339.0" cy="271.1" rx="6.9" ry="7.85" fill="#ff8080"/><ellipse cx="438.8" cy="271.1" rx="6.9" ry="7.85" fill="#ff8080"/><ellipse cx="535.8" cy="271.1" rx="6.9" ry="7.85" fill="#ff8080"/><ellipse cx="636.4" cy="275.7" rx="6.9" ry="7.85" fill="#ff8080"/><ellipse cx="738.6" cy="276.5" rx="6.9" ry="7.85" fill="#ff8080"/><ellipse cx="838.5" cy="280.3" rx="6.9" ry="7.85" fill="#ff8080"/><ellipse cx="936.8" cy="281.8" rx="6.9" ry="7.85" fill="#ff8080"/><ellipse cx="1036.9" cy="285.6" rx="6.9" ry="7.85" fill="#ff8080"/><ellipse cx="1138.4" cy="294.8" rx="6.9" ry="7.85" fill="#ff8080"/><ellipse cx="1238.7" cy="310.8" rx="6.9" ry="7.85" fill="#ff8080"/><ellipse cx="1335.8" cy="337.6" rx="6.9" ry="7.85" fill="#ff8080"/><ellipse cx="1437.0" cy="373.5" rx="6.9" ry="7.85" fill="#ff8080"/>
</g>
<g font-family="Liberation Sans, sans-serif" fill="#000">
<g transform="translate(222.30 817.20) scale(1 1.0)"><text x="0" y="0" font-size="50.5" text-anchor="end" >0</text></g>
<g transform="translate(222.30 664.40) scale(1 1.0)"><text x="0" y="0" font-size="50.5" text-anchor="end" >2</text></g>
<g transform="translate(222.30 511.60) scale(1 1.0)"><text x="0" y="0" font-size="50.5" text-anchor="end" >4</text></g>
<g transform="translate(222.30 358.80) scale(1 1.0)"><text x="0" y="0" font-size="50.5" text-anchor="end" >6</text></g>
<g transform="translate(222.30 206.00) scale(1 1.0)"><text x="0" y="0" font-size="50.5" text-anchor="end" >8</text></g>
<path d="M763 0 L583 0 L583 1147 Q518 1085 412 1023 Q306 961 222 930 L222 1104 Q373 1175 486 1276 Q599 1377 646 1466 L763 1466 Z" transform="translate(166.13 53.20) scale(0.02466 -0.02358)"/>
<g transform="translate(222.30 53.20) scale(1 1.0)"><text x="0" y="0" font-size="50.5" text-anchor="end" >0</text></g>
<g transform="translate(356.41 873.80) scale(1 1.0)"><text x="0" y="0" font-size="36.5" text-anchor="middle" >2</text></g>
<g transform="translate(476.82 873.80) scale(1 1.0)"><text x="0" y="0" font-size="36.5" text-anchor="middle" >4</text></g>
<g transform="translate(547.26 873.80) scale(1 1.0)"><text x="0" y="0" font-size="36.5" text-anchor="middle" >6</text></g>
<g transform="translate(597.24 873.80) scale(1 1.0)"><text x="0" y="0" font-size="36.5" text-anchor="middle" >8</text></g>
<g transform="translate(756.41 873.80) scale(1 1.0)"><text x="0" y="0" font-size="36.5" text-anchor="middle" >2</text></g>
<g transform="translate(876.82 873.80) scale(1 1.0)"><text x="0" y="0" font-size="36.5" text-anchor="middle" >4</text></g>
<g transform="translate(947.26 873.80) scale(1 1.0)"><text x="0" y="0" font-size="36.5" text-anchor="middle" >6</text></g>
<g transform="translate(997.24 873.80) scale(1 1.0)"><text x="0" y="0" font-size="36.5" text-anchor="middle" >8</text></g>
<g transform="translate(1156.41 873.80) scale(1 1.0)"><text x="0" y="0" font-size="36.5" text-anchor="middle" >2</text></g>
<g transform="translate(1276.82 873.80) scale(1 1.0)"><text x="0" y="0" font-size="36.5" text-anchor="middle" >4</text></g>
<g transform="translate(1347.26 873.80) scale(1 1.0)"><text x="0" y="0" font-size="36.5" text-anchor="middle" >6</text></g>
<g transform="translate(1397.24 873.80) scale(1 1.0)"><text x="0" y="0" font-size="36.5" text-anchor="middle" >8</text></g>
<path d="M763 0 L583 0 L583 1147 Q518 1085 412 1023 Q306 961 222 930 L222 1104 Q373 1175 486 1276 Q599 1377 646 1466 L763 1466 Z" transform="translate(197.76 939.00) scale(0.02466 -0.02358)"/>
<g transform="translate(225.85 939.00) scale(1 1.0)"><text x="0" y="0" font-size="50.5" text-anchor="start" >0</text></g>
<path d="M763 0 L583 0 L583 1147 Q518 1085 412 1023 Q306 961 222 930 L222 1104 Q373 1175 486 1276 Q599 1377 646 1466 L763 1466 Z" transform="translate(253.94 905.70) scale(0.01782 -0.01636)"/>
<path d="M763 0 L583 0 L583 1147 Q518 1085 412 1023 Q306 961 222 930 L222 1104 Q373 1175 486 1276 Q599 1377 646 1466 L763 1466 Z" transform="translate(597.76 939.00) scale(0.02466 -0.02358)"/>
<g transform="translate(625.85 939.00) scale(1 1.0)"><text x="0" y="0" font-size="50.5" text-anchor="start" >0</text></g>
<g transform="translate(653.94 905.70) scale(1 1.0)"><text x="0" y="0" font-size="36.5" text-anchor="start" >2</text></g>
<path d="M763 0 L583 0 L583 1147 Q518 1085 412 1023 Q306 961 222 930 L222 1104 Q373 1175 486 1276 Q599 1377 646 1466 L763 1466 Z" transform="translate(997.76 939.00) scale(0.02466 -0.02358)"/>
<g transform="translate(1025.85 939.00) scale(1 1.0)"><text x="0" y="0" font-size="50.5" text-anchor="start" >0</text></g>
<g transform="translate(1053.94 905.70) scale(1 1.0)"><text x="0" y="0" font-size="36.5" text-anchor="start" >3</text></g>
<path d="M763 0 L583 0 L583 1147 Q518 1085 412 1023 Q306 961 222 930 L222 1104 Q373 1175 486 1276 Q599 1377 646 1466 L763 1466 Z" transform="translate(1397.76 939.00) scale(0.02466 -0.02358)"/>
<g transform="translate(1425.85 939.00) scale(1 1.0)"><text x="0" y="0" font-size="50.5" text-anchor="start" >0</text></g>
<g transform="translate(1453.94 905.70) scale(1 1.0)"><text x="0" y="0" font-size="36.5" text-anchor="start" >4</text></g>
<g transform="translate(837 1015.6) scale(1 1.04)"><text x="0" y="0" font-size="64" text-anchor="middle"><tspan font-style="italic">Frequency</tspan> / Hz</text></g>
<g transform="translate(1135.60 417.60) scale(1 1.02)"><text x="0" y="0" font-size="50.5" text-anchor="start" >X'T</text></g>
<g transform="translate(1237.50 417.60) scale(1 1.02)"><text x="0" y="0" font-size="50.5" text-anchor="start" >X"T</text></g>
<g transform="translate(1372.00 475.50) scale(1 1.02)"><text x="0" y="0" font-size="50.5" text-anchor="start" >2  K</text></g>
<g transform="translate(1372.00 532.70) scale(1 1.02)"><text x="0" y="0" font-size="50.5" text-anchor="start" >3  K</text></g>
<g transform="translate(1372.00 590.00) scale(1 1.02)"><text x="0" y="0" font-size="50.5" text-anchor="start" >4  K</text></g>
<g transform="translate(1372.00 647.50) scale(1 1.02)"><text x="0" y="0" font-size="50.5" text-anchor="start" >5  K</text></g>
<g transform="translate(1372.00 704.80) scale(1 1.02)"><text x="0" y="0" font-size="50.5" text-anchor="start" >6  K</text></g>
</g>
<path d="M1116.4 459.2 H1208 M1227.4 459.2 H1320" stroke="#ff8080" stroke-width="6.4" stroke-dasharray="6.3 7.7" fill="none"/>
<ellipse cx="1164.5" cy="459.7" rx="15.95" ry="16.7" fill="#ff8080"/>
<ellipse cx="1275.9" cy="459.7" rx="15.25" ry="15.75" fill="#fff" stroke="#ff8080" stroke-width="1.7"/>
<path d="M1116.4 516.4 H1208 M1227.4 516.4 H1320" stroke="#ff0000" stroke-width="6.4" stroke-dasharray="6.3 7.7" fill="none"/>
<ellipse cx="1164.5" cy="516.9" rx="15.95" ry="16.7" fill="#ff0000"/>
<ellipse cx="1275.9" cy="516.9" rx="15.25" ry="15.75" fill="#fff" stroke="#ff0000" stroke-width="1.7"/>
<path d="M1116.4 573.7 H1208 M1227.4 573.7 H1320" stroke="#ffad00" stroke-width="6.4" stroke-dasharray="6.3 7.7" fill="none"/>
<ellipse cx="1164.5" cy="574.2" rx="15.95" ry="16.7" fill="#ffad00"/>
<ellipse cx="1275.9" cy="574.2" rx="15.25" ry="15.75" fill="#fff" stroke="#ffad00" stroke-width="1.7"/>
<path d="M1116.4 631.2 H1208 M1227.4 631.2 H1320" stroke="#00cc00" stroke-width="6.4" stroke-dasharray="6.3 7.7" fill="none"/>
<ellipse cx="1164.5" cy="631.7" rx="15.95" ry="16.7" fill="#00cc00"/>
<ellipse cx="1275.9" cy="631.7" rx="15.25" ry="15.75" fill="#fff" stroke="#00cc00" stroke-width="1.7"/>
<path d="M1116.4 688.5 H1208 M1227.4 688.5 H1320" stroke="#009900" stroke-width="6.4" stroke-dasharray="6.3 7.7" fill="none"/>
<ellipse cx="1164.5" cy="689.0" rx="15.95" ry="16.7" fill="#009900"/>
<ellipse cx="1275.9" cy="689.0" rx="15.25" ry="15.75" fill="#fff" stroke="#009900" stroke-width="1.7"/>
<g transform="translate(89.8 785) rotate(-90) scale(1 1.04)" font-family="Liberation Sans, sans-serif" fill="#000">
<text x="39.79" y="15.38" font-size="46.5">M</text>
<text x="78.48" y="0.00" font-size="64">"</text>
<text x="106.25" y="0.00" font-size="64" font-style="italic">T</text>
<text x="140.95" y="0.00" font-size="64">,</text>
<text x="211.39" y="15.38" font-size="46.5">M</text>
<text x="248.55" y="0.00" font-size="64">'</text>
<text x="264.05" y="0.00" font-size="64" font-style="italic">T</text>
<text x="319.00" y="0.00" font-size="64">/</text>
<text x="352.28" y="0.00" font-size="64">emu mol</text>
<text x="596.73" y="-42.31" font-size="46.5">-</text>
<g transform="translate(610.86 -42.31) scale(1 0.96154)"><path d="M763 0 L583 0 L583 1147 Q518 1085 412 1023 Q306 961 222 930 L222 1104 Q373 1175 486 1276 Q599 1377 646 1466 L763 1466 Z" transform="translate(0.00 0.00) scale(0.02271 -0.02271)"/></g>
<text x="654.75" y="0.00" font-size="64">K</text>
</g>
<g transform="translate(0 0)" fill="none" stroke="#000" stroke-linecap="butt"><path d="M60.8 741.6 L102.5 779.4" stroke-width="3.2"/><path d="M69.5 770.8 C64.5 768 61 764.5 61 761.2 C61 759.9 61.8 759.3 63.2 759.3 L99 760.1 C101.4 760.2 102 758.2 101.6 756.2 C101 753 98.6 750.6 95 749.2" stroke-width="3.1"/></g>
<g transform="translate(0 -171.2)" fill="none" stroke="#000" stroke-linecap="butt"><path d="M60.8 741.6 L102.5 779.4" stroke-width="3.2"/><path d="M69.5 770.8 C64.5 768 61 764.5 61 761.2 C61 759.9 61.8 759.3 63.2 759.3 L99 760.1 C101.4 760.2 102 758.2 101.6 756.2 C101 753 98.6 750.6 95 749.2" stroke-width="3.1"/></g>
</svg>
</body></html>
